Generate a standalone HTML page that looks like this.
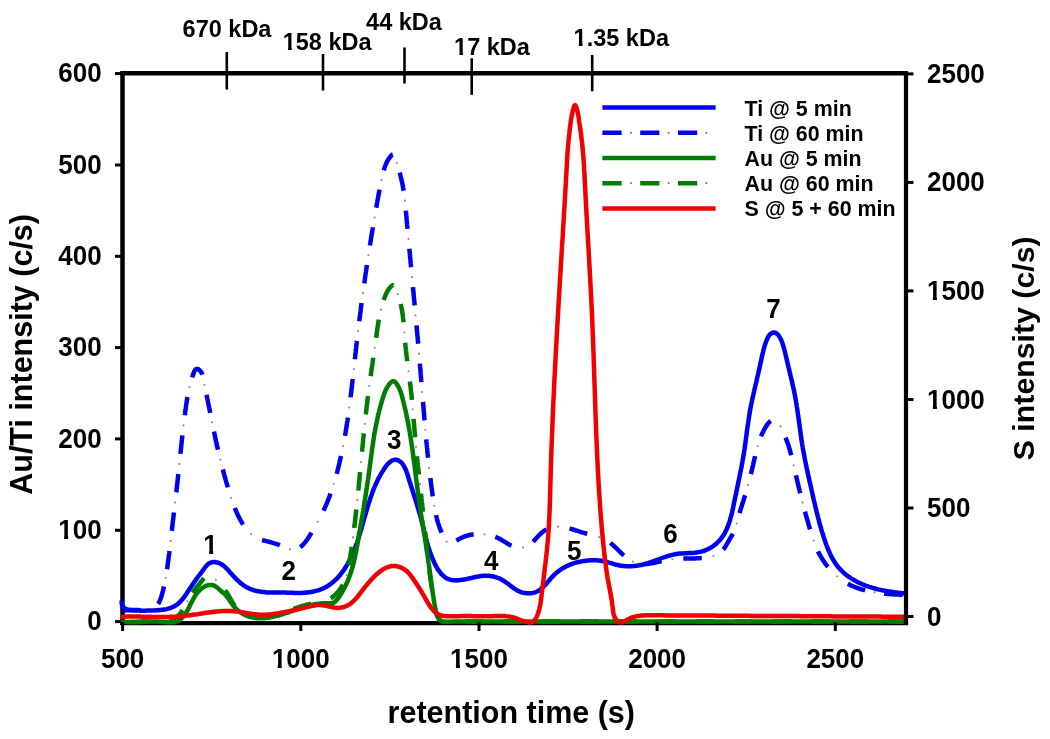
<!DOCTYPE html>
<html><head><meta charset="utf-8"><style>
html,body{margin:0;padding:0;background:#fff;}
body{width:1050px;height:739px;overflow:hidden;}
svg{display:block;filter:blur(0.35px);}
text{font-family:"Liberation Sans", sans-serif;font-weight:bold;fill:#000;}
</style></head><body>
<svg width="1050" height="739" viewBox="0 0 1050 739">
<rect width="1050" height="739" fill="#fff"/>
<g stroke="#000" fill="none">
<path d="M120.3,623.2 H908.1" stroke-width="4.2"/>
<path d="M122.5,71.5 V624.9" stroke-width="4.5"/>
</g>
<path d="M122.0,610.5 L123.6,610.4 L125.1,610.4 L126.6,610.3 L128.1,610.3 L129.5,610.2 L130.9,610.1 L132.3,610.1 L133.8,610.1 L135.2,610.1 L136.7,610.1 L138.2,610.1 L139.8,610.2 L141.4,610.3 L143.0,610.4 L144.6,610.5 L146.2,610.5 L147.8,610.4 L149.3,610.3 L150.7,610.0 L152.1,609.6 L153.4,609.1 L154.6,608.3 L155.6,607.4 L156.6,606.4 L157.5,605.2 L158.3,603.9 L159.0,602.6 L159.6,601.2 L160.2,599.7 L160.8,598.3 L161.3,596.9 L161.7,595.4 L162.1,594.0 L162.5,592.5 L162.9,591.1 L163.2,589.6 L163.5,588.2 L163.9,586.7 L164.2,585.2 L164.5,583.8 L164.8,582.3 L165.0,580.8 L165.3,579.4 L165.6,577.9 L165.9,576.4 L166.1,575.0 L166.3,573.5 L166.6,572.0 L166.8,570.5 L167.1,569.0 L167.3,567.6 L167.5,566.1 L167.7,564.6 L167.9,563.1 L168.1,561.6 L168.3,560.1 L168.5,558.6 L168.7,557.1 L168.9,555.7 L169.1,554.2 L169.3,552.7 L169.4,551.2 L169.6,549.7 L169.8,548.2 L170.0,546.7 L170.1,545.2 L170.3,543.7 L170.5,542.2 L170.7,540.7 L170.8,539.2 L171.0,537.8 L171.2,536.3 L171.3,534.8 L171.5,533.3 L171.7,531.8 L171.9,530.3 L172.0,528.8 L172.2,527.3 L172.4,525.8 L172.6,524.3 L172.7,522.8 L172.9,521.3 L173.1,519.9 L173.3,518.4 L173.4,516.9 L173.6,515.4 L173.8,513.9 L174.0,512.4 L174.1,510.9 L174.3,509.4 L174.5,507.9 L174.7,506.4 L174.8,504.9 L175.0,503.5 L175.2,502.0 L175.3,500.5 L175.5,499.0 L175.7,497.5 L175.9,496.0 L176.0,494.5 L176.2,493.0 L176.4,491.5 L176.5,490.0 L176.7,488.6 L176.9,487.1 L177.0,485.6 L177.2,484.1 L177.4,482.6 L177.5,481.1 L177.7,479.6 L177.9,478.1 L178.0,476.6 L178.2,475.1 L178.3,473.7 L178.5,472.2 L178.7,470.7 L178.8,469.2 L179.0,467.7 L179.1,466.2 L179.3,464.7 L179.5,463.2 L179.6,461.7 L179.8,460.2 L179.9,458.7 L180.1,457.2 L180.2,455.8 L180.4,454.3 L180.5,452.8 L180.7,451.3 L180.8,449.8 L181.0,448.3 L181.2,446.8 L181.3,445.3 L181.5,443.8 L181.6,442.3 L181.8,440.8 L182.0,439.3 L182.1,437.8 L182.3,436.3 L182.4,434.9 L182.6,433.4 L182.8,431.9 L182.9,430.4 L183.1,428.9 L183.3,427.4 L183.5,425.9 L183.6,424.4 L183.8,422.9 L184.0,421.4 L184.2,419.9 L184.4,418.4 L184.6,416.9 L184.8,415.5 L185.0,414.0 L185.1,412.5 L185.3,411.0 L185.6,409.5 L185.8,408.0 L186.0,406.5 L186.2,405.0 L186.4,403.5 L186.6,402.0 L186.9,400.5 L187.1,399.1 L187.3,397.6 L187.6,396.1 L187.9,394.6 L188.1,393.2 L188.4,391.7 L188.7,390.3 L189.0,388.8 L189.4,387.4 L189.7,386.0 L190.1,384.5 L190.5,383.1 L190.9,381.6 L191.3,380.2 L191.8,378.7 L192.2,377.2 L192.7,375.7 L193.3,374.2 L193.8,372.6 L194.5,371.1 L195.2,369.8 L196.1,369.0 L197.2,368.8 L198.5,369.3 L199.7,370.3 L200.9,371.6 L201.7,373.1 L202.4,374.5 L202.8,376.0 L203.1,377.5 L203.4,379.0 L203.6,380.5 L203.9,382.0 L204.2,383.5 L204.5,385.0 L204.8,386.4 L205.1,387.9 L205.4,389.4 L205.7,390.8 L206.0,392.3 L206.3,393.8 L206.6,395.2 L206.9,396.7 L207.2,398.2 L207.5,399.6 L207.8,401.1 L208.1,402.6 L208.4,404.0 L208.7,405.5 L209.0,407.0 L209.3,408.4 L209.6,409.9 L209.9,411.4 L210.2,412.8 L210.5,414.3 L210.8,415.8 L211.1,417.3 L211.4,418.7 L211.7,420.2 L212.0,421.7 L212.2,423.1 L212.5,424.6 L212.8,426.1 L213.1,427.6 L213.4,429.0 L213.8,430.5 L214.1,432.0 L214.4,433.4 L214.7,434.9 L215.0,436.4 L215.3,437.8 L215.6,439.3 L215.9,440.8 L216.3,442.2 L216.6,443.7 L216.9,445.2 L217.2,446.6 L217.6,448.1 L217.9,449.6 L218.3,451.0 L218.6,452.5 L218.9,453.9 L219.3,455.4 L219.6,456.8 L220.0,458.3 L220.4,459.7 L220.7,461.2 L221.1,462.7 L221.5,464.1 L221.8,465.6 L222.2,467.0 L222.6,468.5 L223.0,469.9 L223.3,471.4 L223.7,472.8 L224.1,474.3 L224.5,475.7 L224.9,477.1 L225.3,478.6 L225.7,480.0 L226.1,481.5 L226.5,482.9 L227.0,484.4 L227.4,485.8 L227.8,487.2 L228.2,488.7 L228.7,490.1 L229.1,491.5 L229.6,493.0 L230.0,494.4 L230.5,495.8 L231.0,497.3 L231.4,498.7 L231.9,500.1 L232.4,501.5 L232.9,502.9 L233.4,504.3 L234.0,505.7 L234.5,507.1 L235.0,508.5 L235.6,509.9 L236.2,511.3 L236.8,512.7 L237.4,514.0 L238.0,515.4 L238.7,516.7 L239.4,518.1 L240.1,519.4 L240.8,520.7 L241.5,522.0 L242.3,523.3 L243.1,524.5 L244.0,525.8 L244.8,527.0 L245.7,528.3 L246.7,529.5 L247.6,530.6 L248.6,531.7 L249.7,532.8 L250.7,533.8 L251.9,534.8 L253.0,535.7 L254.2,536.6 L255.5,537.3 L256.8,538.0 L258.1,538.7 L259.5,539.2 L260.9,539.7 L262.4,540.1 L263.9,540.5 L265.4,540.9 L266.8,541.2 L268.3,541.6 L269.8,542.0 L271.3,542.4 L272.7,542.8 L274.1,543.3 L275.5,543.7 L276.9,544.2 L278.3,544.7 L279.7,545.3 L281.0,545.9 L282.4,546.4 L283.8,547.0 L285.2,547.6 L286.6,548.2 L288.0,548.8 L289.5,549.2 L291.0,549.6 L292.5,549.8 L293.9,549.8 L295.4,549.5 L296.8,549.1 L298.2,548.4 L299.5,547.7 L300.7,546.8 L301.9,545.9 L302.9,544.9 L304.0,543.8 L304.9,542.7 L305.8,541.5 L306.7,540.3 L307.6,539.1 L308.4,537.8 L309.2,536.6 L309.9,535.3 L310.7,534.0 L311.5,532.6 L312.2,531.3 L313.0,530.0 L313.7,528.7 L314.5,527.4 L315.3,526.1 L316.0,524.8 L316.8,523.5 L317.6,522.2 L318.3,520.9 L319.0,519.6 L319.7,518.3 L320.4,516.9 L321.1,515.6 L321.8,514.3 L322.5,512.9 L323.1,511.6 L323.7,510.2 L324.4,508.8 L325.0,507.5 L325.6,506.1 L326.2,504.7 L326.8,503.3 L327.3,502.0 L327.9,500.6 L328.4,499.2 L329.0,497.8 L329.5,496.4 L330.0,495.0 L330.5,493.6 L331.0,492.1 L331.5,490.7 L332.0,489.3 L332.5,487.9 L333.0,486.4 L333.4,485.0 L333.9,483.6 L334.3,482.1 L334.7,480.7 L335.2,479.3 L335.6,477.8 L336.0,476.4 L336.4,474.9 L336.8,473.5 L337.2,472.0 L337.5,470.6 L337.9,469.1 L338.3,467.7 L338.7,466.2 L339.0,464.8 L339.4,463.3 L339.7,461.8 L340.0,460.4 L340.4,458.9 L340.7,457.4 L341.0,456.0 L341.4,454.5 L341.7,453.1 L342.0,451.6 L342.3,450.1 L342.6,448.7 L342.9,447.2 L343.2,445.7 L343.5,444.2 L343.7,442.8 L344.0,441.3 L344.3,439.8 L344.5,438.3 L344.8,436.9 L345.1,435.4 L345.3,433.9 L345.6,432.4 L345.8,431.0 L346.1,429.5 L346.3,428.0 L346.5,426.5 L346.8,425.0 L347.0,423.6 L347.2,422.1 L347.5,420.6 L347.7,419.1 L347.9,417.6 L348.1,416.1 L348.3,414.7 L348.5,413.2 L348.7,411.7 L348.9,410.2 L349.1,408.7 L349.3,407.2 L349.5,405.7 L349.7,404.2 L349.9,402.8 L350.1,401.3 L350.3,399.8 L350.5,398.3 L350.6,396.8 L350.8,395.3 L351.0,393.8 L351.2,392.3 L351.4,390.8 L351.5,389.3 L351.7,387.8 L351.9,386.3 L352.0,384.9 L352.2,383.4 L352.4,381.9 L352.5,380.4 L352.7,378.9 L352.9,377.4 L353.0,375.9 L353.2,374.4 L353.4,372.9 L353.5,371.4 L353.7,369.9 L353.9,368.4 L354.0,366.9 L354.2,365.4 L354.3,363.9 L354.5,362.4 L354.7,361.0 L354.8,359.5 L355.0,358.0 L355.2,356.5 L355.3,355.0 L355.5,353.5 L355.7,352.0 L355.8,350.5 L356.0,349.0 L356.2,347.5 L356.3,346.0 L356.5,344.5 L356.7,343.0 L356.8,341.5 L357.0,340.0 L357.2,338.6 L357.4,337.1 L357.5,335.6 L357.7,334.1 L357.9,332.6 L358.1,331.1 L358.2,329.6 L358.4,328.1 L358.6,326.6 L358.8,325.1 L359.0,323.6 L359.1,322.2 L359.3,320.7 L359.5,319.2 L359.7,317.7 L359.9,316.2 L360.1,314.7 L360.3,313.2 L360.5,311.7 L360.7,310.2 L360.8,308.7 L361.0,307.3 L361.2,305.8 L361.4,304.3 L361.6,302.8 L361.8,301.3 L362.0,299.8 L362.2,298.3 L362.4,296.8 L362.6,295.4 L362.8,293.9 L363.0,292.4 L363.2,290.9 L363.4,289.4 L363.6,287.9 L363.8,286.4 L364.0,285.0 L364.3,283.5 L364.5,282.0 L364.7,280.5 L364.9,279.0 L365.1,277.5 L365.3,276.0 L365.5,274.6 L365.7,273.1 L366.0,271.6 L366.2,270.1 L366.4,268.6 L366.6,267.1 L366.8,265.6 L367.0,264.2 L367.3,262.7 L367.5,261.2 L367.7,259.7 L367.9,258.2 L368.2,256.7 L368.4,255.3 L368.6,253.8 L368.9,252.3 L369.1,250.8 L369.3,249.3 L369.5,247.8 L369.8,246.4 L370.0,244.9 L370.3,243.4 L370.5,241.9 L370.7,240.4 L371.0,238.9 L371.2,237.5 L371.4,236.0 L371.7,234.5 L371.9,233.0 L372.2,231.5 L372.4,230.1 L372.7,228.6 L372.9,227.1 L373.2,225.6 L373.4,224.1 L373.7,222.7 L373.9,221.2 L374.2,219.7 L374.4,218.2 L374.7,216.7 L374.9,215.3 L375.2,213.8 L375.4,212.3 L375.7,210.8 L375.9,209.3 L376.2,207.8 L376.5,206.4 L376.7,204.9 L377.0,203.4 L377.3,201.9 L377.5,200.5 L377.8,199.0 L378.1,197.5 L378.4,196.0 L378.6,194.5 L378.9,193.1 L379.2,191.6 L379.5,190.1 L379.8,188.6 L380.0,187.2 L380.3,185.7 L380.6,184.2 L380.9,182.8 L381.2,181.3 L381.5,179.8 L381.8,178.3 L382.2,176.9 L382.5,175.4 L382.8,174.0 L383.2,172.5 L383.6,171.1 L384.0,169.7 L384.4,168.2 L384.9,166.8 L385.4,165.5 L385.9,164.1 L386.5,162.7 L387.2,161.3 L388.1,159.8 L389.1,158.3 L390.2,156.8 L391.3,155.5 L392.4,154.7 L393.3,154.5 L394.1,155.1 L394.7,156.2 L395.2,157.8 L395.7,159.5 L396.2,161.1 L396.7,162.7 L397.2,164.2 L397.6,165.6 L398.1,167.0 L398.5,168.5 L398.9,169.8 L399.3,171.3 L399.7,172.7 L400.1,174.1 L400.5,175.6 L400.8,177.0 L401.2,178.5 L401.5,180.0 L401.9,181.5 L402.2,182.9 L402.5,184.4 L402.8,185.9 L403.0,187.4 L403.3,188.9 L403.5,190.3 L403.8,191.8 L404.0,193.3 L404.2,194.8 L404.4,196.3 L404.6,197.8 L404.7,199.3 L404.9,200.8 L405.1,202.3 L405.2,203.8 L405.4,205.2 L405.5,206.7 L405.7,208.2 L405.8,209.7 L405.9,211.2 L406.1,212.7 L406.2,214.2 L406.3,215.7 L406.5,217.2 L406.6,218.7 L406.7,220.2 L406.9,221.7 L407.0,223.2 L407.1,224.7 L407.3,226.2 L407.4,227.7 L407.5,229.2 L407.7,230.7 L407.8,232.2 L408.0,233.6 L408.1,235.1 L408.2,236.6 L408.4,238.1 L408.5,239.6 L408.6,241.1 L408.8,242.6 L408.9,244.1 L409.1,245.6 L409.2,247.1 L409.3,248.6 L409.5,250.1 L409.6,251.6 L409.8,253.1 L409.9,254.6 L410.0,256.1 L410.2,257.6 L410.3,259.1 L410.5,260.5 L410.6,262.0 L410.7,263.5 L410.9,265.0 L411.0,266.5 L411.2,268.0 L411.3,269.5 L411.4,271.0 L411.6,272.5 L411.7,274.0 L411.9,275.5 L412.0,277.0 L412.2,278.5 L412.3,280.0 L412.4,281.5 L412.6,283.0 L412.7,284.5 L412.9,286.0 L413.0,287.5 L413.1,288.9 L413.3,290.4 L413.4,291.9 L413.6,293.4 L413.7,294.9 L413.8,296.4 L414.0,297.9 L414.1,299.4 L414.3,300.9 L414.4,302.4 L414.5,303.9 L414.7,305.4 L414.8,306.9 L415.0,308.4 L415.1,309.9 L415.2,311.4 L415.4,312.9 L415.5,314.4 L415.6,315.9 L415.8,317.4 L415.9,318.8 L416.1,320.3 L416.2,321.8 L416.3,323.3 L416.5,324.8 L416.6,326.3 L416.7,327.8 L416.9,329.3 L417.0,330.8 L417.1,332.3 L417.3,333.8 L417.4,335.3 L417.5,336.8 L417.7,338.3 L417.8,339.8 L417.9,341.3 L418.1,342.8 L418.2,344.3 L418.3,345.8 L418.5,347.3 L418.6,348.8 L418.7,350.3 L418.9,351.8 L419.0,353.3 L419.1,354.7 L419.2,356.2 L419.4,357.7 L419.5,359.2 L419.6,360.7 L419.8,362.2 L419.9,363.7 L420.0,365.2 L420.1,366.7 L420.3,368.2 L420.4,369.7 L420.5,371.2 L420.6,372.7 L420.7,374.2 L420.9,375.7 L421.0,377.2 L421.1,378.7 L421.2,380.2 L421.4,381.7 L421.5,383.2 L421.6,384.7 L421.7,386.2 L421.8,387.7 L422.0,389.2 L422.1,390.7 L422.2,392.2 L422.3,393.7 L422.4,395.2 L422.6,396.7 L422.7,398.1 L422.8,399.6 L422.9,401.1 L423.1,402.6 L423.2,404.1 L423.3,405.6 L423.4,407.1 L423.6,408.6 L423.7,410.1 L423.8,411.6 L423.9,413.1 L424.1,414.6 L424.2,416.1 L424.3,417.6 L424.4,419.1 L424.6,420.6 L424.7,422.1 L424.8,423.6 L424.9,425.1 L425.1,426.6 L425.2,428.1 L425.3,429.6 L425.5,431.1 L425.6,432.6 L425.7,434.1 L425.9,435.5 L426.0,437.0 L426.2,438.5 L426.3,440.0 L426.4,441.5 L426.6,443.0 L426.7,444.5 L426.9,446.0 L427.0,447.5 L427.2,449.0 L427.3,450.5 L427.5,452.0 L427.6,453.5 L427.8,455.0 L427.9,456.5 L428.1,458.0 L428.2,459.4 L428.4,460.9 L428.6,462.4 L428.7,463.9 L428.9,465.4 L429.1,466.9 L429.2,468.4 L429.4,469.9 L429.6,471.4 L429.7,472.9 L429.9,474.4 L430.1,475.9 L430.3,477.3 L430.4,478.8 L430.6,480.3 L430.8,481.8 L431.0,483.3 L431.2,484.8 L431.4,486.3 L431.6,487.8 L431.8,489.3 L432.0,490.7 L432.2,492.2 L432.4,493.7 L432.6,495.2 L432.8,496.7 L433.0,498.2 L433.2,499.7 L433.5,501.2 L433.7,502.6 L433.9,504.1 L434.2,505.6 L434.4,507.1 L434.7,508.6 L435.0,510.1 L435.3,511.5 L435.6,513.0 L435.9,514.5 L436.2,515.9 L436.6,517.4 L436.9,518.8 L437.3,520.3 L437.7,521.7 L438.1,523.1 L438.6,524.6 L439.1,526.0 L439.5,527.4 L440.1,528.8 L440.6,530.2 L441.2,531.6 L441.8,533.0 L442.4,534.4 L443.1,535.8 L443.8,537.2 L444.5,538.6 L445.3,539.9 L446.2,541.1 L447.2,542.0 L448.5,542.4 L449.9,542.5 L451.4,542.2 L452.9,541.8 L454.3,541.3 L455.7,540.8 L457.1,540.1 L458.4,539.5 L459.7,538.8 L461.1,538.1 L462.4,537.4 L463.7,536.8 L465.1,536.3 L466.6,535.8 L468.0,535.3 L469.5,535.0 L471.0,534.7 L472.5,534.5 L474.0,534.3 L475.5,534.1 L477.0,534.1 L478.5,534.0 L480.0,534.0 L481.5,534.1 L483.0,534.2 L484.5,534.3 L485.9,534.5 L487.4,534.8 L488.8,535.0 L490.3,535.4 L491.7,535.8 L493.1,536.2 L494.5,536.7 L495.9,537.2 L497.3,537.8 L498.6,538.4 L500.0,539.1 L501.3,539.8 L502.6,540.6 L504.0,541.4 L505.3,542.2 L506.6,543.0 L507.9,543.8 L509.2,544.6 L510.5,545.3 L511.8,545.9 L513.2,546.5 L514.6,547.0 L516.0,547.4 L517.4,547.6 L518.9,547.8 L520.4,547.8 L521.9,547.6 L523.4,547.3 L524.9,546.9 L526.4,546.3 L527.8,545.7 L529.1,544.9 L530.4,544.1 L531.5,543.2 L532.7,542.2 L533.7,541.1 L534.7,540.1 L535.7,538.9 L536.7,537.8 L537.7,536.7 L538.7,535.6 L539.7,534.5 L540.8,533.5 L541.9,532.5 L543.1,531.6 L544.4,530.7 L545.7,529.9 L547.0,529.2 L548.4,528.6 L549.8,528.1 L551.3,527.6 L552.7,527.3 L554.1,527.0 L555.6,526.8 L557.0,526.7 L558.5,526.7 L559.9,526.8 L561.4,526.9 L562.8,527.1 L564.3,527.3 L565.7,527.6 L567.2,527.9 L568.6,528.3 L570.1,528.7 L571.6,529.1 L573.0,529.5 L574.5,530.0 L576.0,530.5 L577.4,530.9 L578.9,531.4 L580.4,531.8 L581.8,532.3 L583.3,532.7 L584.8,533.1 L586.2,533.5 L587.7,533.9 L589.2,534.2 L590.6,534.6 L592.1,535.0 L593.5,535.4 L594.9,535.8 L596.3,536.2 L597.7,536.6 L599.1,537.1 L600.5,537.6 L601.9,538.1 L603.2,538.7 L604.5,539.3 L605.8,540.0 L607.1,540.7 L608.3,541.5 L609.5,542.4 L610.7,543.3 L611.9,544.2 L613.1,545.2 L614.2,546.3 L615.4,547.3 L616.5,548.4 L617.6,549.5 L618.7,550.6 L619.9,551.7 L621.0,552.8 L622.1,553.9 L623.2,554.9 L624.4,555.9 L625.5,556.9 L626.7,557.9 L627.9,558.8 L629.1,559.7 L630.3,560.5 L631.5,561.2 L632.8,561.8 L634.1,562.4 L635.4,562.9 L636.8,563.3 L638.2,563.6 L639.6,563.8 L641.1,563.9 L642.5,564.0 L644.0,564.0 L645.5,564.0 L647.0,563.9 L648.5,563.7 L650.1,563.5 L651.6,563.3 L653.1,563.0 L654.6,562.7 L656.1,562.4 L657.5,562.1 L659.0,561.7 L660.5,561.4 L662.0,561.0 L663.5,560.7 L664.9,560.4 L666.4,560.1 L667.9,559.9 L669.3,559.6 L670.8,559.4 L672.3,559.3 L673.8,559.1 L675.2,559.0 L676.7,558.9 L678.2,558.8 L679.7,558.7 L681.1,558.7 L682.6,558.6 L684.1,558.6 L685.6,558.5 L687.1,558.5 L688.6,558.5 L690.1,558.5 L691.6,558.4 L693.2,558.4 L694.7,558.4 L696.2,558.3 L697.8,558.3 L699.3,558.2 L700.8,558.1 L702.4,558.0 L703.9,557.9 L705.4,557.7 L706.9,557.5 L708.4,557.3 L709.8,557.0 L711.3,556.6 L712.7,556.2 L714.1,555.8 L715.4,555.2 L716.7,554.6 L717.9,553.9 L719.2,553.2 L720.3,552.3 L721.4,551.4 L722.5,550.3 L723.5,549.2 L724.4,548.0 L725.3,546.7 L726.1,545.4 L726.9,544.0 L727.7,542.6 L728.5,541.3 L729.3,539.9 L730.0,538.6 L730.7,537.3 L731.5,536.0 L732.2,534.8 L732.9,533.5 L733.5,532.2 L734.1,530.9 L734.6,529.5 L735.1,528.2 L735.6,526.7 L736.0,525.3 L736.5,523.8 L736.9,522.4 L737.3,520.9 L737.7,519.4 L738.1,518.0 L738.5,516.5 L738.9,515.1 L739.4,513.6 L739.8,512.2 L740.2,510.7 L740.7,509.3 L741.1,507.8 L741.6,506.4 L742.0,505.0 L742.5,503.6 L742.9,502.1 L743.4,500.7 L743.8,499.3 L744.3,497.8 L744.7,496.4 L745.2,495.0 L745.6,493.6 L746.0,492.1 L746.5,490.7 L746.9,489.3 L747.3,487.8 L747.7,486.4 L748.1,484.9 L748.5,483.5 L748.9,482.0 L749.3,480.6 L749.6,479.1 L750.0,477.7 L750.4,476.2 L750.7,474.8 L751.1,473.3 L751.4,471.8 L751.8,470.4 L752.1,468.9 L752.5,467.4 L752.8,466.0 L753.2,464.5 L753.5,463.0 L753.8,461.6 L754.2,460.1 L754.5,458.6 L754.9,457.2 L755.2,455.7 L755.6,454.3 L755.9,452.8 L756.3,451.4 L756.7,449.9 L757.1,448.5 L757.4,447.0 L757.9,445.6 L758.3,444.2 L758.7,442.7 L759.2,441.3 L759.7,439.9 L760.2,438.5 L760.7,437.1 L761.3,435.7 L761.9,434.3 L762.5,432.9 L763.2,431.6 L763.9,430.2 L764.6,428.8 L765.4,427.5 L766.2,426.2 L767.1,424.8 L768.0,423.6 L769.0,422.4 L770.0,421.4 L771.1,420.6 L772.4,420.2 L773.7,420.2 L775.1,420.7 L776.5,421.5 L777.8,422.6 L778.9,423.7 L779.8,425.0 L780.5,426.3 L781.2,427.6 L781.8,428.9 L782.3,430.3 L782.9,431.7 L783.5,433.0 L784.1,434.4 L784.7,435.8 L785.3,437.2 L785.9,438.6 L786.4,440.0 L787.0,441.4 L787.5,442.8 L788.0,444.2 L788.5,445.6 L788.9,447.1 L789.4,448.5 L789.8,449.9 L790.2,451.4 L790.6,452.8 L791.0,454.3 L791.3,455.7 L791.7,457.2 L792.1,458.6 L792.4,460.1 L792.8,461.6 L793.1,463.0 L793.5,464.5 L793.8,465.9 L794.1,467.4 L794.5,468.9 L794.8,470.3 L795.1,471.8 L795.5,473.3 L795.8,474.7 L796.1,476.2 L796.5,477.6 L796.8,479.1 L797.2,480.6 L797.5,482.0 L797.9,483.5 L798.2,484.9 L798.6,486.4 L798.9,487.9 L799.3,489.3 L799.6,490.8 L800.0,492.2 L800.3,493.7 L800.7,495.1 L801.1,496.6 L801.4,498.0 L801.8,499.5 L802.2,501.0 L802.6,502.4 L802.9,503.9 L803.3,505.3 L803.7,506.8 L804.1,508.2 L804.5,509.6 L804.9,511.1 L805.3,512.5 L805.6,514.0 L806.0,515.4 L806.4,516.9 L806.8,518.3 L807.3,519.8 L807.7,521.2 L808.1,522.6 L808.5,524.1 L808.9,525.5 L809.3,527.0 L809.8,528.4 L810.2,529.8 L810.6,531.3 L811.0,532.7 L811.5,534.1 L811.9,535.6 L812.4,537.0 L812.8,538.4 L813.3,539.8 L813.8,541.2 L814.3,542.7 L814.8,544.1 L815.4,545.4 L815.9,546.8 L816.5,548.2 L817.1,549.6 L817.8,550.9 L818.4,552.3 L819.1,553.6 L819.8,554.9 L820.6,556.2 L821.3,557.5 L822.1,558.8 L822.9,560.1 L823.8,561.3 L824.6,562.6 L825.5,563.8 L826.4,565.0 L827.3,566.2 L828.3,567.4 L829.3,568.5 L830.3,569.6 L831.3,570.8 L832.3,571.8 L833.4,572.9 L834.4,573.9 L835.5,575.0 L836.6,575.9 L837.8,576.9 L838.9,577.9 L840.1,578.8 L841.3,579.6 L842.5,580.5 L843.8,581.3 L845.0,582.1 L846.3,582.9 L847.6,583.6 L848.9,584.3 L850.2,585.0 L851.5,585.6 L852.9,586.2 L854.2,586.8 L855.6,587.4 L857.0,587.9 L858.4,588.4 L859.9,588.9 L861.3,589.3 L862.7,589.7 L864.2,590.1 L865.6,590.5 L867.1,590.8 L868.6,591.2 L870.1,591.5 L871.6,591.8 L873.1,592.0 L874.6,592.3 L876.1,592.5 L877.6,592.8 L879.1,593.0 L880.6,593.2 L882.1,593.3 L883.6,593.5 L885.2,593.7 L886.7,593.8 L888.2,593.9 L889.7,594.1 L891.2,594.2 L892.7,594.3 L894.2,594.4 L895.7,594.5 L897.2,594.6 L898.7,594.6 L900.2,594.7 L901.6,594.8 L903.1,594.9 L904.5,594.9 L906.0,595.0" fill="none" stroke="#0000f0" stroke-width="4.5" stroke-dasharray="0.00 0.24 18.50 20.00 18.50 17.44 18.50 20.27 18.50 20.27 18.50 20.27 18.50 20.27 18.50 20.27 18.50 20.68 18.50 19.01 18.50 20.47 18.50 21.96 18.50 25.06 18.50 21.85 18.50 25.12 18.50 20.53 18.50 20.48 18.50 20.53 18.50 19.78 18.50 19.78 18.50 19.78 18.50 19.78 18.50 19.78 18.50 19.78 18.50 19.95 18.50 19.95 18.50 19.95 18.50 19.95 18.50 19.95 18.50 19.95 18.50 19.95 18.50 19.03 18.50 20.52 18.50 19.01 18.50 20.43 18.50 22.02 18.50 23.62 18.50 23.39 18.50 25.04 18.50 21.89 18.50 21.89 18.50 23.69 18.50 21.89 18.50 22.01 18.50 20.64 18.50 25.02 18.50 20.49 18.50 18.98 18.50 23.46 18.50 26.28 18.50 19.38 18.50 52.53"/>
<path d="M122.0,610.5 L123.6,610.4 L125.1,610.4 L126.6,610.3 L128.1,610.3 L129.5,610.2 L130.9,610.1 L132.3,610.1 L133.8,610.1 L135.2,610.1 L136.7,610.1 L138.2,610.1 L139.8,610.2 L141.4,610.3 L143.0,610.4 L144.6,610.5 L146.2,610.5 L147.8,610.4 L149.3,610.3 L150.7,610.0 L152.1,609.6 L153.4,609.1 L154.6,608.3 L155.6,607.4 L156.6,606.4 L157.5,605.2 L158.3,603.9 L159.0,602.6 L159.6,601.2 L160.2,599.7 L160.8,598.3 L161.3,596.9 L161.7,595.4 L162.1,594.0 L162.5,592.5 L162.9,591.1 L163.2,589.6 L163.5,588.2 L163.9,586.7 L164.2,585.2 L164.5,583.8 L164.8,582.3 L165.0,580.8 L165.3,579.4 L165.6,577.9 L165.9,576.4 L166.1,575.0 L166.3,573.5 L166.6,572.0 L166.8,570.5 L167.1,569.0 L167.3,567.6 L167.5,566.1 L167.7,564.6 L167.9,563.1 L168.1,561.6 L168.3,560.1 L168.5,558.6 L168.7,557.1 L168.9,555.7 L169.1,554.2 L169.3,552.7 L169.4,551.2 L169.6,549.7 L169.8,548.2 L170.0,546.7 L170.1,545.2 L170.3,543.7 L170.5,542.2 L170.7,540.7 L170.8,539.2 L171.0,537.8 L171.2,536.3 L171.3,534.8 L171.5,533.3 L171.7,531.8 L171.9,530.3 L172.0,528.8 L172.2,527.3 L172.4,525.8 L172.6,524.3 L172.7,522.8 L172.9,521.3 L173.1,519.9 L173.3,518.4 L173.4,516.9 L173.6,515.4 L173.8,513.9 L174.0,512.4 L174.1,510.9 L174.3,509.4 L174.5,507.9 L174.7,506.4 L174.8,504.9 L175.0,503.5 L175.2,502.0 L175.3,500.5 L175.5,499.0 L175.7,497.5 L175.9,496.0 L176.0,494.5 L176.2,493.0 L176.4,491.5 L176.5,490.0 L176.7,488.6 L176.9,487.1 L177.0,485.6 L177.2,484.1 L177.4,482.6 L177.5,481.1 L177.7,479.6 L177.9,478.1 L178.0,476.6 L178.2,475.1 L178.3,473.7 L178.5,472.2 L178.7,470.7 L178.8,469.2 L179.0,467.7 L179.1,466.2 L179.3,464.7 L179.5,463.2 L179.6,461.7 L179.8,460.2 L179.9,458.7 L180.1,457.2 L180.2,455.8 L180.4,454.3 L180.5,452.8 L180.7,451.3 L180.8,449.8 L181.0,448.3 L181.2,446.8 L181.3,445.3 L181.5,443.8 L181.6,442.3 L181.8,440.8 L182.0,439.3 L182.1,437.8 L182.3,436.3 L182.4,434.9 L182.6,433.4 L182.8,431.9 L182.9,430.4 L183.1,428.9 L183.3,427.4 L183.5,425.9 L183.6,424.4 L183.8,422.9 L184.0,421.4 L184.2,419.9 L184.4,418.4 L184.6,416.9 L184.8,415.5 L185.0,414.0 L185.1,412.5 L185.3,411.0 L185.6,409.5 L185.8,408.0 L186.0,406.5 L186.2,405.0 L186.4,403.5 L186.6,402.0 L186.9,400.5 L187.1,399.1 L187.3,397.6 L187.6,396.1 L187.9,394.6 L188.1,393.2 L188.4,391.7 L188.7,390.3 L189.0,388.8 L189.4,387.4 L189.7,386.0 L190.1,384.5 L190.5,383.1 L190.9,381.6 L191.3,380.2 L191.8,378.7 L192.2,377.2 L192.7,375.7 L193.3,374.2 L193.8,372.6 L194.5,371.1 L195.2,369.8 L196.1,369.0 L197.2,368.8 L198.5,369.3 L199.7,370.3 L200.9,371.6 L201.7,373.1 L202.4,374.5 L202.8,376.0 L203.1,377.5 L203.4,379.0 L203.6,380.5 L203.9,382.0 L204.2,383.5 L204.5,385.0 L204.8,386.4 L205.1,387.9 L205.4,389.4 L205.7,390.8 L206.0,392.3 L206.3,393.8 L206.6,395.2 L206.9,396.7 L207.2,398.2 L207.5,399.6 L207.8,401.1 L208.1,402.6 L208.4,404.0 L208.7,405.5 L209.0,407.0 L209.3,408.4 L209.6,409.9 L209.9,411.4 L210.2,412.8 L210.5,414.3 L210.8,415.8 L211.1,417.3 L211.4,418.7 L211.7,420.2 L212.0,421.7 L212.2,423.1 L212.5,424.6 L212.8,426.1 L213.1,427.6 L213.4,429.0 L213.8,430.5 L214.1,432.0 L214.4,433.4 L214.7,434.9 L215.0,436.4 L215.3,437.8 L215.6,439.3 L215.9,440.8 L216.3,442.2 L216.6,443.7 L216.9,445.2 L217.2,446.6 L217.6,448.1 L217.9,449.6 L218.3,451.0 L218.6,452.5 L218.9,453.9 L219.3,455.4 L219.6,456.8 L220.0,458.3 L220.4,459.7 L220.7,461.2 L221.1,462.7 L221.5,464.1 L221.8,465.6 L222.2,467.0 L222.6,468.5 L223.0,469.9 L223.3,471.4 L223.7,472.8 L224.1,474.3 L224.5,475.7 L224.9,477.1 L225.3,478.6 L225.7,480.0 L226.1,481.5 L226.5,482.9 L227.0,484.4 L227.4,485.8 L227.8,487.2 L228.2,488.7 L228.7,490.1 L229.1,491.5 L229.6,493.0 L230.0,494.4 L230.5,495.8 L231.0,497.3 L231.4,498.7 L231.9,500.1 L232.4,501.5 L232.9,502.9 L233.4,504.3 L234.0,505.7 L234.5,507.1 L235.0,508.5 L235.6,509.9 L236.2,511.3 L236.8,512.7 L237.4,514.0 L238.0,515.4 L238.7,516.7 L239.4,518.1 L240.1,519.4 L240.8,520.7 L241.5,522.0 L242.3,523.3 L243.1,524.5 L244.0,525.8 L244.8,527.0 L245.7,528.3 L246.7,529.5 L247.6,530.6 L248.6,531.7 L249.7,532.8 L250.7,533.8 L251.9,534.8 L253.0,535.7 L254.2,536.6 L255.5,537.3 L256.8,538.0 L258.1,538.7 L259.5,539.2 L260.9,539.7 L262.4,540.1 L263.9,540.5 L265.4,540.9 L266.8,541.2 L268.3,541.6 L269.8,542.0 L271.3,542.4 L272.7,542.8 L274.1,543.3 L275.5,543.7 L276.9,544.2 L278.3,544.7 L279.7,545.3 L281.0,545.9 L282.4,546.4 L283.8,547.0 L285.2,547.6 L286.6,548.2 L288.0,548.8 L289.5,549.2 L291.0,549.6 L292.5,549.8 L293.9,549.8 L295.4,549.5 L296.8,549.1 L298.2,548.4 L299.5,547.7 L300.7,546.8 L301.9,545.9 L302.9,544.9 L304.0,543.8 L304.9,542.7 L305.8,541.5 L306.7,540.3 L307.6,539.1 L308.4,537.8 L309.2,536.6 L309.9,535.3 L310.7,534.0 L311.5,532.6 L312.2,531.3 L313.0,530.0 L313.7,528.7 L314.5,527.4 L315.3,526.1 L316.0,524.8 L316.8,523.5 L317.6,522.2 L318.3,520.9 L319.0,519.6 L319.7,518.3 L320.4,516.9 L321.1,515.6 L321.8,514.3 L322.5,512.9 L323.1,511.6 L323.7,510.2 L324.4,508.8 L325.0,507.5 L325.6,506.1 L326.2,504.7 L326.8,503.3 L327.3,502.0 L327.9,500.6 L328.4,499.2 L329.0,497.8 L329.5,496.4 L330.0,495.0 L330.5,493.6 L331.0,492.1 L331.5,490.7 L332.0,489.3 L332.5,487.9 L333.0,486.4 L333.4,485.0 L333.9,483.6 L334.3,482.1 L334.7,480.7 L335.2,479.3 L335.6,477.8 L336.0,476.4 L336.4,474.9 L336.8,473.5 L337.2,472.0 L337.5,470.6 L337.9,469.1 L338.3,467.7 L338.7,466.2 L339.0,464.8 L339.4,463.3 L339.7,461.8 L340.0,460.4 L340.4,458.9 L340.7,457.4 L341.0,456.0 L341.4,454.5 L341.7,453.1 L342.0,451.6 L342.3,450.1 L342.6,448.7 L342.9,447.2 L343.2,445.7 L343.5,444.2 L343.7,442.8 L344.0,441.3 L344.3,439.8 L344.5,438.3 L344.8,436.9 L345.1,435.4 L345.3,433.9 L345.6,432.4 L345.8,431.0 L346.1,429.5 L346.3,428.0 L346.5,426.5 L346.8,425.0 L347.0,423.6 L347.2,422.1 L347.5,420.6 L347.7,419.1 L347.9,417.6 L348.1,416.1 L348.3,414.7 L348.5,413.2 L348.7,411.7 L348.9,410.2 L349.1,408.7 L349.3,407.2 L349.5,405.7 L349.7,404.2 L349.9,402.8 L350.1,401.3 L350.3,399.8 L350.5,398.3 L350.6,396.8 L350.8,395.3 L351.0,393.8 L351.2,392.3 L351.4,390.8 L351.5,389.3 L351.7,387.8 L351.9,386.3 L352.0,384.9 L352.2,383.4 L352.4,381.9 L352.5,380.4 L352.7,378.9 L352.9,377.4 L353.0,375.9 L353.2,374.4 L353.4,372.9 L353.5,371.4 L353.7,369.9 L353.9,368.4 L354.0,366.9 L354.2,365.4 L354.3,363.9 L354.5,362.4 L354.7,361.0 L354.8,359.5 L355.0,358.0 L355.2,356.5 L355.3,355.0 L355.5,353.5 L355.7,352.0 L355.8,350.5 L356.0,349.0 L356.2,347.5 L356.3,346.0 L356.5,344.5 L356.7,343.0 L356.8,341.5 L357.0,340.0 L357.2,338.6 L357.4,337.1 L357.5,335.6 L357.7,334.1 L357.9,332.6 L358.1,331.1 L358.2,329.6 L358.4,328.1 L358.6,326.6 L358.8,325.1 L359.0,323.6 L359.1,322.2 L359.3,320.7 L359.5,319.2 L359.7,317.7 L359.9,316.2 L360.1,314.7 L360.3,313.2 L360.5,311.7 L360.7,310.2 L360.8,308.7 L361.0,307.3 L361.2,305.8 L361.4,304.3 L361.6,302.8 L361.8,301.3 L362.0,299.8 L362.2,298.3 L362.4,296.8 L362.6,295.4 L362.8,293.9 L363.0,292.4 L363.2,290.9 L363.4,289.4 L363.6,287.9 L363.8,286.4 L364.0,285.0 L364.3,283.5 L364.5,282.0 L364.7,280.5 L364.9,279.0 L365.1,277.5 L365.3,276.0 L365.5,274.6 L365.7,273.1 L366.0,271.6 L366.2,270.1 L366.4,268.6 L366.6,267.1 L366.8,265.6 L367.0,264.2 L367.3,262.7 L367.5,261.2 L367.7,259.7 L367.9,258.2 L368.2,256.7 L368.4,255.3 L368.6,253.8 L368.9,252.3 L369.1,250.8 L369.3,249.3 L369.5,247.8 L369.8,246.4 L370.0,244.9 L370.3,243.4 L370.5,241.9 L370.7,240.4 L371.0,238.9 L371.2,237.5 L371.4,236.0 L371.7,234.5 L371.9,233.0 L372.2,231.5 L372.4,230.1 L372.7,228.6 L372.9,227.1 L373.2,225.6 L373.4,224.1 L373.7,222.7 L373.9,221.2 L374.2,219.7 L374.4,218.2 L374.7,216.7 L374.9,215.3 L375.2,213.8 L375.4,212.3 L375.7,210.8 L375.9,209.3 L376.2,207.8 L376.5,206.4 L376.7,204.9 L377.0,203.4 L377.3,201.9 L377.5,200.5 L377.8,199.0 L378.1,197.5 L378.4,196.0 L378.6,194.5 L378.9,193.1 L379.2,191.6 L379.5,190.1 L379.8,188.6 L380.0,187.2 L380.3,185.7 L380.6,184.2 L380.9,182.8 L381.2,181.3 L381.5,179.8 L381.8,178.3 L382.2,176.9 L382.5,175.4 L382.8,174.0 L383.2,172.5 L383.6,171.1 L384.0,169.7 L384.4,168.2 L384.9,166.8 L385.4,165.5 L385.9,164.1 L386.5,162.7 L387.2,161.3 L388.1,159.8 L389.1,158.3 L390.2,156.8 L391.3,155.5 L392.4,154.7 L393.3,154.5 L394.1,155.1 L394.7,156.2 L395.2,157.8 L395.7,159.5 L396.2,161.1 L396.7,162.7 L397.2,164.2 L397.6,165.6 L398.1,167.0 L398.5,168.5 L398.9,169.8 L399.3,171.3 L399.7,172.7 L400.1,174.1 L400.5,175.6 L400.8,177.0 L401.2,178.5 L401.5,180.0 L401.9,181.5 L402.2,182.9 L402.5,184.4 L402.8,185.9 L403.0,187.4 L403.3,188.9 L403.5,190.3 L403.8,191.8 L404.0,193.3 L404.2,194.8 L404.4,196.3 L404.6,197.8 L404.7,199.3 L404.9,200.8 L405.1,202.3 L405.2,203.8 L405.4,205.2 L405.5,206.7 L405.7,208.2 L405.8,209.7 L405.9,211.2 L406.1,212.7 L406.2,214.2 L406.3,215.7 L406.5,217.2 L406.6,218.7 L406.7,220.2 L406.9,221.7 L407.0,223.2 L407.1,224.7 L407.3,226.2 L407.4,227.7 L407.5,229.2 L407.7,230.7 L407.8,232.2 L408.0,233.6 L408.1,235.1 L408.2,236.6 L408.4,238.1 L408.5,239.6 L408.6,241.1 L408.8,242.6 L408.9,244.1 L409.1,245.6 L409.2,247.1 L409.3,248.6 L409.5,250.1 L409.6,251.6 L409.8,253.1 L409.9,254.6 L410.0,256.1 L410.2,257.6 L410.3,259.1 L410.5,260.5 L410.6,262.0 L410.7,263.5 L410.9,265.0 L411.0,266.5 L411.2,268.0 L411.3,269.5 L411.4,271.0 L411.6,272.5 L411.7,274.0 L411.9,275.5 L412.0,277.0 L412.2,278.5 L412.3,280.0 L412.4,281.5 L412.6,283.0 L412.7,284.5 L412.9,286.0 L413.0,287.5 L413.1,288.9 L413.3,290.4 L413.4,291.9 L413.6,293.4 L413.7,294.9 L413.8,296.4 L414.0,297.9 L414.1,299.4 L414.3,300.9 L414.4,302.4 L414.5,303.9 L414.7,305.4 L414.8,306.9 L415.0,308.4 L415.1,309.9 L415.2,311.4 L415.4,312.9 L415.5,314.4 L415.6,315.9 L415.8,317.4 L415.9,318.8 L416.1,320.3 L416.2,321.8 L416.3,323.3 L416.5,324.8 L416.6,326.3 L416.7,327.8 L416.9,329.3 L417.0,330.8 L417.1,332.3 L417.3,333.8 L417.4,335.3 L417.5,336.8 L417.7,338.3 L417.8,339.8 L417.9,341.3 L418.1,342.8 L418.2,344.3 L418.3,345.8 L418.5,347.3 L418.6,348.8 L418.7,350.3 L418.9,351.8 L419.0,353.3 L419.1,354.7 L419.2,356.2 L419.4,357.7 L419.5,359.2 L419.6,360.7 L419.8,362.2 L419.9,363.7 L420.0,365.2 L420.1,366.7 L420.3,368.2 L420.4,369.7 L420.5,371.2 L420.6,372.7 L420.7,374.2 L420.9,375.7 L421.0,377.2 L421.1,378.7 L421.2,380.2 L421.4,381.7 L421.5,383.2 L421.6,384.7 L421.7,386.2 L421.8,387.7 L422.0,389.2 L422.1,390.7 L422.2,392.2 L422.3,393.7 L422.4,395.2 L422.6,396.7 L422.7,398.1 L422.8,399.6 L422.9,401.1 L423.1,402.6 L423.2,404.1 L423.3,405.6 L423.4,407.1 L423.6,408.6 L423.7,410.1 L423.8,411.6 L423.9,413.1 L424.1,414.6 L424.2,416.1 L424.3,417.6 L424.4,419.1 L424.6,420.6 L424.7,422.1 L424.8,423.6 L424.9,425.1 L425.1,426.6 L425.2,428.1 L425.3,429.6 L425.5,431.1 L425.6,432.6 L425.7,434.1 L425.9,435.5 L426.0,437.0 L426.2,438.5 L426.3,440.0 L426.4,441.5 L426.6,443.0 L426.7,444.5 L426.9,446.0 L427.0,447.5 L427.2,449.0 L427.3,450.5 L427.5,452.0 L427.6,453.5 L427.8,455.0 L427.9,456.5 L428.1,458.0 L428.2,459.4 L428.4,460.9 L428.6,462.4 L428.7,463.9 L428.9,465.4 L429.1,466.9 L429.2,468.4 L429.4,469.9 L429.6,471.4 L429.7,472.9 L429.9,474.4 L430.1,475.9 L430.3,477.3 L430.4,478.8 L430.6,480.3 L430.8,481.8 L431.0,483.3 L431.2,484.8 L431.4,486.3 L431.6,487.8 L431.8,489.3 L432.0,490.7 L432.2,492.2 L432.4,493.7 L432.6,495.2 L432.8,496.7 L433.0,498.2 L433.2,499.7 L433.5,501.2 L433.7,502.6 L433.9,504.1 L434.2,505.6 L434.4,507.1 L434.7,508.6 L435.0,510.1 L435.3,511.5 L435.6,513.0 L435.9,514.5 L436.2,515.9 L436.6,517.4 L436.9,518.8 L437.3,520.3 L437.7,521.7 L438.1,523.1 L438.6,524.6 L439.1,526.0 L439.5,527.4 L440.1,528.8 L440.6,530.2 L441.2,531.6 L441.8,533.0 L442.4,534.4 L443.1,535.8 L443.8,537.2 L444.5,538.6 L445.3,539.9 L446.2,541.1 L447.2,542.0 L448.5,542.4 L449.9,542.5 L451.4,542.2 L452.9,541.8 L454.3,541.3 L455.7,540.8 L457.1,540.1 L458.4,539.5 L459.7,538.8 L461.1,538.1 L462.4,537.4 L463.7,536.8 L465.1,536.3 L466.6,535.8 L468.0,535.3 L469.5,535.0 L471.0,534.7 L472.5,534.5 L474.0,534.3 L475.5,534.1 L477.0,534.1 L478.5,534.0 L480.0,534.0 L481.5,534.1 L483.0,534.2 L484.5,534.3 L485.9,534.5 L487.4,534.8 L488.8,535.0 L490.3,535.4 L491.7,535.8 L493.1,536.2 L494.5,536.7 L495.9,537.2 L497.3,537.8 L498.6,538.4 L500.0,539.1 L501.3,539.8 L502.6,540.6 L504.0,541.4 L505.3,542.2 L506.6,543.0 L507.9,543.8 L509.2,544.6 L510.5,545.3 L511.8,545.9 L513.2,546.5 L514.6,547.0 L516.0,547.4 L517.4,547.6 L518.9,547.8 L520.4,547.8 L521.9,547.6 L523.4,547.3 L524.9,546.9 L526.4,546.3 L527.8,545.7 L529.1,544.9 L530.4,544.1 L531.5,543.2 L532.7,542.2 L533.7,541.1 L534.7,540.1 L535.7,538.9 L536.7,537.8 L537.7,536.7 L538.7,535.6 L539.7,534.5 L540.8,533.5 L541.9,532.5 L543.1,531.6 L544.4,530.7 L545.7,529.9 L547.0,529.2 L548.4,528.6 L549.8,528.1 L551.3,527.6 L552.7,527.3 L554.1,527.0 L555.6,526.8 L557.0,526.7 L558.5,526.7 L559.9,526.8 L561.4,526.9 L562.8,527.1 L564.3,527.3 L565.7,527.6 L567.2,527.9 L568.6,528.3 L570.1,528.7 L571.6,529.1 L573.0,529.5 L574.5,530.0 L576.0,530.5 L577.4,530.9 L578.9,531.4 L580.4,531.8 L581.8,532.3 L583.3,532.7 L584.8,533.1 L586.2,533.5 L587.7,533.9 L589.2,534.2 L590.6,534.6 L592.1,535.0 L593.5,535.4 L594.9,535.8 L596.3,536.2 L597.7,536.6 L599.1,537.1 L600.5,537.6 L601.9,538.1 L603.2,538.7 L604.5,539.3 L605.8,540.0 L607.1,540.7 L608.3,541.5 L609.5,542.4 L610.7,543.3 L611.9,544.2 L613.1,545.2 L614.2,546.3 L615.4,547.3 L616.5,548.4 L617.6,549.5 L618.7,550.6 L619.9,551.7 L621.0,552.8 L622.1,553.9 L623.2,554.9 L624.4,555.9 L625.5,556.9 L626.7,557.9 L627.9,558.8 L629.1,559.7 L630.3,560.5 L631.5,561.2 L632.8,561.8 L634.1,562.4 L635.4,562.9 L636.8,563.3 L638.2,563.6 L639.6,563.8 L641.1,563.9 L642.5,564.0 L644.0,564.0 L645.5,564.0 L647.0,563.9 L648.5,563.7 L650.1,563.5 L651.6,563.3 L653.1,563.0 L654.6,562.7 L656.1,562.4 L657.5,562.1 L659.0,561.7 L660.5,561.4 L662.0,561.0 L663.5,560.7 L664.9,560.4 L666.4,560.1 L667.9,559.9 L669.3,559.6 L670.8,559.4 L672.3,559.3 L673.8,559.1 L675.2,559.0 L676.7,558.9 L678.2,558.8 L679.7,558.7 L681.1,558.7 L682.6,558.6 L684.1,558.6 L685.6,558.5 L687.1,558.5 L688.6,558.5 L690.1,558.5 L691.6,558.4 L693.2,558.4 L694.7,558.4 L696.2,558.3 L697.8,558.3 L699.3,558.2 L700.8,558.1 L702.4,558.0 L703.9,557.9 L705.4,557.7 L706.9,557.5 L708.4,557.3 L709.8,557.0 L711.3,556.6 L712.7,556.2 L714.1,555.8 L715.4,555.2 L716.7,554.6 L717.9,553.9 L719.2,553.2 L720.3,552.3 L721.4,551.4 L722.5,550.3 L723.5,549.2 L724.4,548.0 L725.3,546.7 L726.1,545.4 L726.9,544.0 L727.7,542.6 L728.5,541.3 L729.3,539.9 L730.0,538.6 L730.7,537.3 L731.5,536.0 L732.2,534.8 L732.9,533.5 L733.5,532.2 L734.1,530.9 L734.6,529.5 L735.1,528.2 L735.6,526.7 L736.0,525.3 L736.5,523.8 L736.9,522.4 L737.3,520.9 L737.7,519.4 L738.1,518.0 L738.5,516.5 L738.9,515.1 L739.4,513.6 L739.8,512.2 L740.2,510.7 L740.7,509.3 L741.1,507.8 L741.6,506.4 L742.0,505.0 L742.5,503.6 L742.9,502.1 L743.4,500.7 L743.8,499.3 L744.3,497.8 L744.7,496.4 L745.2,495.0 L745.6,493.6 L746.0,492.1 L746.5,490.7 L746.9,489.3 L747.3,487.8 L747.7,486.4 L748.1,484.9 L748.5,483.5 L748.9,482.0 L749.3,480.6 L749.6,479.1 L750.0,477.7 L750.4,476.2 L750.7,474.8 L751.1,473.3 L751.4,471.8 L751.8,470.4 L752.1,468.9 L752.5,467.4 L752.8,466.0 L753.2,464.5 L753.5,463.0 L753.8,461.6 L754.2,460.1 L754.5,458.6 L754.9,457.2 L755.2,455.7 L755.6,454.3 L755.9,452.8 L756.3,451.4 L756.7,449.9 L757.1,448.5 L757.4,447.0 L757.9,445.6 L758.3,444.2 L758.7,442.7 L759.2,441.3 L759.7,439.9 L760.2,438.5 L760.7,437.1 L761.3,435.7 L761.9,434.3 L762.5,432.9 L763.2,431.6 L763.9,430.2 L764.6,428.8 L765.4,427.5 L766.2,426.2 L767.1,424.8 L768.0,423.6 L769.0,422.4 L770.0,421.4 L771.1,420.6 L772.4,420.2 L773.7,420.2 L775.1,420.7 L776.5,421.5 L777.8,422.6 L778.9,423.7 L779.8,425.0 L780.5,426.3 L781.2,427.6 L781.8,428.9 L782.3,430.3 L782.9,431.7 L783.5,433.0 L784.1,434.4 L784.7,435.8 L785.3,437.2 L785.9,438.6 L786.4,440.0 L787.0,441.4 L787.5,442.8 L788.0,444.2 L788.5,445.6 L788.9,447.1 L789.4,448.5 L789.8,449.9 L790.2,451.4 L790.6,452.8 L791.0,454.3 L791.3,455.7 L791.7,457.2 L792.1,458.6 L792.4,460.1 L792.8,461.6 L793.1,463.0 L793.5,464.5 L793.8,465.9 L794.1,467.4 L794.5,468.9 L794.8,470.3 L795.1,471.8 L795.5,473.3 L795.8,474.7 L796.1,476.2 L796.5,477.6 L796.8,479.1 L797.2,480.6 L797.5,482.0 L797.9,483.5 L798.2,484.9 L798.6,486.4 L798.9,487.9 L799.3,489.3 L799.6,490.8 L800.0,492.2 L800.3,493.7 L800.7,495.1 L801.1,496.6 L801.4,498.0 L801.8,499.5 L802.2,501.0 L802.6,502.4 L802.9,503.9 L803.3,505.3 L803.7,506.8 L804.1,508.2 L804.5,509.6 L804.9,511.1 L805.3,512.5 L805.6,514.0 L806.0,515.4 L806.4,516.9 L806.8,518.3 L807.3,519.8 L807.7,521.2 L808.1,522.6 L808.5,524.1 L808.9,525.5 L809.3,527.0 L809.8,528.4 L810.2,529.8 L810.6,531.3 L811.0,532.7 L811.5,534.1 L811.9,535.6 L812.4,537.0 L812.8,538.4 L813.3,539.8 L813.8,541.2 L814.3,542.7 L814.8,544.1 L815.4,545.4 L815.9,546.8 L816.5,548.2 L817.1,549.6 L817.8,550.9 L818.4,552.3 L819.1,553.6 L819.8,554.9 L820.6,556.2 L821.3,557.5 L822.1,558.8 L822.9,560.1 L823.8,561.3 L824.6,562.6 L825.5,563.8 L826.4,565.0 L827.3,566.2 L828.3,567.4 L829.3,568.5 L830.3,569.6 L831.3,570.8 L832.3,571.8 L833.4,572.9 L834.4,573.9 L835.5,575.0 L836.6,575.9 L837.8,576.9 L838.9,577.9 L840.1,578.8 L841.3,579.6 L842.5,580.5 L843.8,581.3 L845.0,582.1 L846.3,582.9 L847.6,583.6 L848.9,584.3 L850.2,585.0 L851.5,585.6 L852.9,586.2 L854.2,586.8 L855.6,587.4 L857.0,587.9 L858.4,588.4 L859.9,588.9 L861.3,589.3 L862.7,589.7 L864.2,590.1 L865.6,590.5 L867.1,590.8 L868.6,591.2 L870.1,591.5 L871.6,591.8 L873.1,592.0 L874.6,592.3 L876.1,592.5 L877.6,592.8 L879.1,593.0 L880.6,593.2 L882.1,593.3 L883.6,593.5 L885.2,593.7 L886.7,593.8 L888.2,593.9 L889.7,594.1 L891.2,594.2 L892.7,594.3 L894.2,594.4 L895.7,594.5 L897.2,594.6 L898.7,594.6 L900.2,594.7 L901.6,594.8 L903.1,594.9 L904.5,594.9 L906.0,595.0" fill="none" stroke="#707080" stroke-width="1.8" stroke-dasharray="0.00 27.84 1.80 35.42 1.80 35.56 1.80 36.97 1.80 36.97 1.80 36.97 1.80 36.97 1.80 37.18 1.80 36.55 1.80 36.44 1.80 37.92 1.80 40.21 1.80 40.15 1.80 40.19 1.80 39.53 1.80 37.20 1.80 37.20 1.80 36.85 1.80 36.48 1.80 36.48 1.80 36.48 1.80 36.48 1.80 36.48 1.80 36.57 1.80 36.65 1.80 36.65 1.80 36.65 1.80 36.65 1.80 36.65 1.80 36.65 1.80 36.19 1.80 36.48 1.80 36.46 1.80 36.42 1.80 37.92 1.80 39.52 1.80 40.20 1.80 40.92 1.80 40.17 1.80 38.59 1.80 39.49 1.80 39.49 1.80 38.65 1.80 38.03 1.80 39.53 1.80 39.46 1.80 36.44 1.80 37.92 1.80 41.57 1.80 39.53 1.80 79.82" opacity="0.85"/>
<path d="M121.6,600.5 L121.6,602.3 L121.8,604.0 L122.3,605.4 L123.0,606.7 L123.9,607.7 L125.0,608.5 L126.2,609.1 L127.6,609.5 L129.0,609.8 L130.5,610.0 L132.0,610.2 L133.5,610.3 L135.0,610.4 L136.5,610.5 L138.0,610.6 L139.5,610.6 L141.0,610.7 L142.5,610.7 L144.0,610.7 L145.5,610.7 L147.0,610.6 L148.5,610.6 L150.1,610.6 L151.6,610.5 L153.1,610.5 L154.6,610.4 L156.2,610.3 L157.7,610.2 L159.2,610.1 L160.7,610.0 L162.2,609.8 L163.7,609.6 L165.2,609.4 L166.6,609.1 L168.0,608.7 L169.4,608.3 L170.8,607.9 L172.2,607.3 L173.5,606.7 L174.7,606.0 L176.0,605.3 L177.2,604.4 L178.3,603.5 L179.4,602.5 L180.5,601.4 L181.5,600.3 L182.5,599.1 L183.5,597.8 L184.5,596.6 L185.4,595.3 L186.3,594.0 L187.1,592.7 L188.0,591.4 L188.8,590.1 L189.7,588.9 L190.5,587.6 L191.3,586.4 L192.1,585.2 L192.9,584.0 L193.8,582.8 L194.6,581.6 L195.4,580.4 L196.3,579.2 L197.1,578.0 L198.0,576.8 L198.9,575.7 L199.8,574.5 L200.8,573.3 L201.7,572.0 L202.7,570.7 L203.6,569.4 L204.6,568.0 L205.6,566.7 L206.7,565.5 L207.8,564.3 L209.0,563.4 L210.2,562.8 L211.6,562.3 L212.9,562.1 L214.4,562.0 L215.8,562.2 L217.2,562.5 L218.6,562.9 L219.9,563.5 L221.2,564.2 L222.5,565.0 L223.7,565.9 L224.8,566.8 L225.9,567.8 L227.0,568.9 L228.1,570.1 L229.1,571.2 L230.1,572.4 L231.2,573.6 L232.2,574.7 L233.3,575.9 L234.4,577.1 L235.5,578.2 L236.6,579.3 L237.7,580.4 L238.8,581.5 L240.0,582.5 L241.1,583.5 L242.3,584.4 L243.5,585.3 L244.8,586.1 L246.0,586.9 L247.3,587.6 L248.6,588.3 L249.9,588.9 L251.3,589.4 L252.6,589.9 L254.0,590.3 L255.4,590.7 L256.8,591.0 L258.3,591.3 L259.7,591.6 L261.2,591.8 L262.7,592.0 L264.1,592.1 L265.6,592.3 L267.1,592.4 L268.7,592.4 L270.2,592.5 L271.7,592.5 L273.2,592.6 L274.8,592.6 L276.3,592.6 L277.8,592.6 L279.3,592.6 L280.9,592.6 L282.4,592.6 L283.9,592.6 L285.5,592.6 L287.0,592.7 L288.5,592.7 L290.0,592.8 L291.5,592.8 L293.0,592.8 L294.5,592.9 L296.0,592.9 L297.5,592.9 L298.9,592.9 L300.4,592.9 L301.9,592.9 L303.4,592.8 L304.9,592.7 L306.4,592.6 L307.8,592.5 L309.3,592.3 L310.8,592.1 L312.3,591.8 L313.7,591.5 L315.2,591.1 L316.7,590.7 L318.1,590.3 L319.5,589.8 L321.0,589.3 L322.3,588.7 L323.7,588.1 L325.0,587.5 L326.3,586.8 L327.6,586.0 L328.9,585.2 L330.1,584.4 L331.3,583.5 L332.4,582.6 L333.5,581.7 L334.6,580.7 L335.7,579.7 L336.8,578.6 L337.8,577.6 L338.8,576.5 L339.8,575.3 L340.7,574.2 L341.6,573.0 L342.5,571.8 L343.4,570.5 L344.3,569.3 L345.1,568.0 L345.9,566.7 L346.7,565.4 L347.5,564.1 L348.2,562.7 L348.9,561.4 L349.7,560.0 L350.3,558.7 L351.0,557.3 L351.7,555.9 L352.3,554.5 L352.9,553.1 L353.5,551.7 L354.1,550.3 L354.6,548.9 L355.2,547.5 L355.7,546.1 L356.2,544.7 L356.8,543.3 L357.3,541.9 L357.7,540.5 L358.2,539.1 L358.7,537.6 L359.1,536.2 L359.6,534.8 L360.0,533.4 L360.4,531.9 L360.9,530.5 L361.3,529.1 L361.7,527.7 L362.1,526.2 L362.5,524.8 L362.9,523.4 L363.3,521.9 L363.7,520.5 L364.1,519.0 L364.5,517.6 L365.0,516.2 L365.4,514.7 L365.8,513.3 L366.2,511.9 L366.6,510.4 L367.0,509.0 L367.4,507.6 L367.9,506.1 L368.3,504.7 L368.7,503.3 L369.2,501.8 L369.7,500.4 L370.1,499.0 L370.6,497.5 L371.1,496.1 L371.6,494.7 L372.1,493.3 L372.6,491.9 L373.2,490.5 L373.7,489.1 L374.3,487.7 L374.9,486.3 L375.5,484.9 L376.1,483.5 L376.7,482.2 L377.4,480.8 L378.0,479.4 L378.7,478.1 L379.4,476.8 L380.1,475.4 L380.9,474.1 L381.7,472.8 L382.4,471.5 L383.3,470.2 L384.1,468.9 L385.0,467.6 L385.9,466.3 L386.8,465.1 L387.8,464.0 L388.9,462.9 L390.1,461.9 L391.3,461.0 L392.6,460.3 L393.9,459.9 L395.3,459.7 L396.7,459.8 L398.0,460.3 L399.3,461.0 L400.6,461.9 L401.7,462.9 L402.7,464.1 L403.5,465.4 L404.3,466.7 L405.1,468.2 L405.7,469.6 L406.3,471.1 L406.8,472.6 L407.3,474.1 L407.8,475.6 L408.2,477.0 L408.7,478.4 L409.1,479.8 L409.5,481.2 L410.0,482.6 L410.4,484.0 L410.9,485.4 L411.3,486.8 L411.8,488.2 L412.2,489.6 L412.7,491.0 L413.1,492.5 L413.6,493.9 L414.0,495.3 L414.5,496.7 L415.0,498.2 L415.4,499.6 L415.9,501.1 L416.3,502.5 L416.8,503.9 L417.2,505.4 L417.6,506.8 L418.1,508.3 L418.5,509.7 L418.9,511.2 L419.3,512.6 L419.8,514.1 L420.2,515.6 L420.6,517.0 L421.0,518.5 L421.3,519.9 L421.7,521.4 L422.1,522.8 L422.5,524.3 L422.8,525.7 L423.2,527.2 L423.5,528.6 L423.9,530.1 L424.2,531.5 L424.6,533.0 L425.0,534.4 L425.3,535.9 L425.7,537.3 L426.1,538.8 L426.4,540.2 L426.8,541.7 L427.2,543.1 L427.6,544.5 L428.1,546.0 L428.5,547.4 L429.0,548.8 L429.4,550.3 L429.9,551.7 L430.4,553.1 L430.9,554.5 L431.4,555.9 L432.0,557.3 L432.6,558.7 L433.2,560.1 L433.8,561.5 L434.4,562.9 L435.1,564.3 L435.8,565.7 L436.6,567.0 L437.3,568.4 L438.1,569.7 L439.0,570.9 L439.9,572.1 L440.8,573.3 L441.8,574.4 L442.8,575.4 L443.9,576.3 L445.0,577.2 L446.1,578.0 L447.4,578.6 L448.7,579.2 L450.0,579.6 L451.4,580.0 L452.9,580.2 L454.4,580.3 L456.0,580.4 L457.5,580.3 L459.1,580.2 L460.7,580.1 L462.3,579.8 L463.9,579.6 L465.4,579.3 L466.9,579.0 L468.4,578.6 L469.8,578.3 L471.3,578.0 L472.7,577.6 L474.1,577.3 L475.5,577.0 L476.9,576.7 L478.3,576.4 L479.8,576.2 L481.2,576.0 L482.7,575.8 L484.1,575.8 L485.6,575.7 L487.1,575.7 L488.7,575.8 L490.2,576.0 L491.7,576.2 L493.3,576.5 L494.8,576.9 L496.2,577.3 L497.7,577.8 L499.1,578.3 L500.5,579.0 L501.8,579.7 L503.1,580.5 L504.4,581.3 L505.6,582.1 L506.8,583.0 L508.1,583.9 L509.3,584.8 L510.5,585.7 L511.7,586.6 L512.9,587.5 L514.1,588.4 L515.3,589.2 L516.6,590.0 L517.8,590.7 L519.1,591.3 L520.5,591.9 L521.8,592.4 L523.3,592.8 L524.7,593.1 L526.2,593.2 L527.7,593.3 L529.2,593.3 L530.8,593.2 L532.3,593.0 L533.7,592.7 L535.1,592.3 L536.5,591.7 L537.8,591.1 L539.1,590.4 L540.3,589.5 L541.4,588.6 L542.6,587.6 L543.6,586.6 L544.7,585.5 L545.7,584.4 L546.7,583.2 L547.7,582.0 L548.7,580.9 L549.7,579.7 L550.7,578.5 L551.7,577.4 L552.8,576.3 L553.9,575.2 L555.0,574.1 L556.1,573.1 L557.2,572.2 L558.4,571.3 L559.6,570.4 L560.8,569.5 L562.0,568.7 L563.3,567.9 L564.6,567.2 L565.9,566.5 L567.2,565.9 L568.6,565.2 L570.0,564.7 L571.4,564.1 L572.8,563.6 L574.2,563.2 L575.6,562.7 L577.1,562.3 L578.6,562.0 L580.0,561.7 L581.5,561.4 L583.0,561.1 L584.5,560.9 L586.0,560.7 L587.5,560.5 L589.0,560.4 L590.5,560.3 L592.0,560.2 L593.5,560.2 L595.0,560.2 L596.5,560.3 L598.0,560.4 L599.5,560.5 L601.0,560.7 L602.4,561.0 L603.9,561.3 L605.4,561.6 L606.8,562.0 L608.2,562.4 L609.7,562.8 L611.1,563.2 L612.5,563.6 L614.0,564.1 L615.4,564.5 L616.9,564.8 L618.3,565.2 L619.8,565.5 L621.3,565.8 L622.8,566.0 L624.3,566.1 L625.8,566.2 L627.3,566.3 L628.8,566.3 L630.3,566.3 L631.8,566.2 L633.3,566.1 L634.8,566.0 L636.3,565.8 L637.8,565.6 L639.3,565.3 L640.7,565.0 L642.2,564.7 L643.7,564.3 L645.1,563.9 L646.5,563.5 L648.0,563.1 L649.4,562.6 L650.8,562.1 L652.2,561.6 L653.6,561.1 L655.0,560.6 L656.4,560.1 L657.8,559.6 L659.2,559.1 L660.7,558.5 L662.1,558.0 L663.5,557.5 L664.9,557.0 L666.3,556.6 L667.8,556.1 L669.2,555.7 L670.7,555.3 L672.1,554.9 L673.6,554.6 L675.0,554.3 L676.5,554.0 L678.0,553.8 L679.5,553.6 L681.0,553.5 L682.5,553.4 L684.0,553.3 L685.5,553.2 L687.0,553.2 L688.5,553.1 L690.1,553.1 L691.6,553.0 L693.1,552.9 L694.6,552.8 L696.1,552.6 L697.6,552.4 L699.1,552.1 L700.5,551.8 L702.0,551.4 L703.4,551.0 L704.9,550.5 L706.3,549.9 L707.6,549.3 L709.0,548.6 L710.3,547.9 L711.6,547.1 L712.9,546.3 L714.1,545.4 L715.3,544.5 L716.4,543.5 L717.5,542.5 L718.5,541.5 L719.5,540.4 L720.5,539.3 L721.4,538.2 L722.2,537.0 L723.0,535.9 L723.8,534.6 L724.6,533.4 L725.2,532.1 L725.9,530.8 L726.5,529.5 L727.1,528.1 L727.7,526.8 L728.2,525.4 L728.7,524.0 L729.2,522.6 L729.7,521.1 L730.1,519.7 L730.5,518.2 L730.9,516.8 L731.3,515.3 L731.7,513.8 L732.1,512.3 L732.4,510.8 L732.7,509.3 L733.1,507.8 L733.4,506.3 L733.7,504.8 L734.0,503.3 L734.3,501.7 L734.6,500.2 L734.9,498.7 L735.2,497.3 L735.5,495.8 L735.9,494.3 L736.2,492.8 L736.5,491.3 L736.8,489.8 L737.1,488.4 L737.4,486.9 L737.7,485.4 L738.0,484.0 L738.3,482.5 L738.6,481.1 L738.9,479.6 L739.2,478.1 L739.5,476.7 L739.8,475.2 L740.1,473.8 L740.4,472.3 L740.7,470.9 L741.0,469.4 L741.3,467.9 L741.6,466.5 L741.8,465.0 L742.1,463.6 L742.4,462.1 L742.6,460.6 L742.9,459.2 L743.2,457.7 L743.4,456.2 L743.7,454.8 L743.9,453.3 L744.1,451.8 L744.3,450.3 L744.6,448.9 L744.8,447.4 L745.0,445.9 L745.2,444.4 L745.4,442.9 L745.6,441.4 L745.8,439.9 L746.0,438.4 L746.2,436.9 L746.4,435.4 L746.6,433.9 L746.8,432.4 L747.0,430.9 L747.2,429.4 L747.4,427.9 L747.6,426.4 L747.8,424.9 L748.1,423.4 L748.3,421.9 L748.5,420.5 L748.7,419.0 L748.9,417.5 L749.2,416.0 L749.4,414.5 L749.7,413.0 L749.9,411.5 L750.2,410.0 L750.4,408.6 L750.7,407.1 L751.0,405.6 L751.3,404.1 L751.6,402.7 L751.9,401.2 L752.2,399.7 L752.5,398.3 L752.8,396.8 L753.2,395.3 L753.5,393.9 L753.8,392.4 L754.2,391.0 L754.5,389.5 L754.8,388.0 L755.2,386.6 L755.5,385.1 L755.9,383.7 L756.2,382.2 L756.6,380.8 L756.9,379.3 L757.2,377.8 L757.6,376.4 L757.9,374.9 L758.3,373.5 L758.6,372.0 L758.9,370.5 L759.2,369.1 L759.6,367.6 L759.9,366.1 L760.2,364.7 L760.5,363.2 L760.8,361.7 L761.2,360.2 L761.5,358.8 L761.8,357.3 L762.1,355.8 L762.5,354.4 L762.8,352.9 L763.2,351.5 L763.5,350.0 L763.9,348.6 L764.3,347.2 L764.7,345.7 L765.2,344.3 L765.7,342.8 L766.2,341.3 L766.8,339.8 L767.5,338.3 L768.3,336.8 L769.1,335.5 L770.1,334.3 L771.2,333.4 L772.4,332.7 L773.6,332.5 L774.8,332.6 L776.0,333.1 L777.1,333.9 L778.2,335.0 L779.1,336.2 L780.0,337.6 L780.7,339.0 L781.4,340.5 L782.0,342.0 L782.5,343.5 L783.0,345.1 L783.5,346.6 L783.9,348.1 L784.3,349.5 L784.7,351.0 L785.1,352.4 L785.4,353.9 L785.7,355.3 L786.1,356.7 L786.4,358.2 L786.7,359.6 L787.1,361.0 L787.4,362.5 L787.7,363.9 L788.1,365.4 L788.4,366.8 L788.8,368.2 L789.1,369.7 L789.5,371.2 L789.8,372.6 L790.2,374.1 L790.5,375.5 L790.9,377.0 L791.2,378.5 L791.6,379.9 L791.9,381.4 L792.2,382.9 L792.6,384.4 L792.9,385.8 L793.2,387.3 L793.6,388.8 L793.9,390.3 L794.2,391.7 L794.5,393.2 L794.8,394.7 L795.1,396.2 L795.3,397.7 L795.6,399.2 L795.9,400.6 L796.1,402.1 L796.4,403.6 L796.6,405.1 L796.8,406.6 L797.1,408.1 L797.3,409.5 L797.5,411.0 L797.7,412.5 L797.9,414.0 L798.1,415.5 L798.4,417.0 L798.6,418.4 L798.8,419.9 L799.0,421.4 L799.2,422.9 L799.4,424.4 L799.6,425.9 L799.8,427.3 L800.0,428.8 L800.2,430.3 L800.4,431.8 L800.6,433.3 L800.8,434.8 L801.0,436.2 L801.2,437.7 L801.4,439.2 L801.6,440.7 L801.9,442.2 L802.1,443.6 L802.3,445.1 L802.6,446.6 L802.8,448.1 L803.1,449.6 L803.4,451.0 L803.6,452.5 L803.9,454.0 L804.2,455.5 L804.5,457.0 L804.7,458.4 L805.0,459.9 L805.3,461.4 L805.6,462.9 L805.9,464.3 L806.2,465.8 L806.5,467.3 L806.8,468.7 L807.2,470.2 L807.5,471.7 L807.8,473.2 L808.1,474.6 L808.4,476.1 L808.8,477.6 L809.1,479.0 L809.4,480.5 L809.7,482.0 L810.1,483.4 L810.4,484.9 L810.7,486.4 L811.1,487.8 L811.4,489.3 L811.7,490.8 L812.1,492.2 L812.4,493.7 L812.7,495.2 L813.1,496.6 L813.4,498.1 L813.7,499.5 L814.1,501.0 L814.4,502.5 L814.8,503.9 L815.1,505.4 L815.4,506.8 L815.8,508.3 L816.1,509.7 L816.5,511.2 L816.8,512.6 L817.2,514.1 L817.6,515.6 L817.9,517.0 L818.3,518.5 L818.7,519.9 L819.1,521.3 L819.4,522.8 L819.8,524.2 L820.2,525.7 L820.7,527.1 L821.1,528.6 L821.5,530.0 L821.9,531.5 L822.4,532.9 L822.8,534.3 L823.3,535.8 L823.7,537.2 L824.2,538.6 L824.7,540.1 L825.2,541.5 L825.7,542.9 L826.2,544.4 L826.7,545.8 L827.3,547.2 L827.8,548.6 L828.4,550.0 L829.0,551.4 L829.6,552.8 L830.3,554.2 L830.9,555.5 L831.6,556.9 L832.3,558.2 L833.0,559.5 L833.8,560.8 L834.6,562.0 L835.4,563.3 L836.2,564.5 L837.1,565.7 L838.0,566.9 L839.0,568.0 L840.0,569.1 L841.0,570.2 L842.0,571.2 L843.1,572.2 L844.2,573.2 L845.4,574.2 L846.5,575.1 L847.7,576.0 L849.0,576.9 L850.2,577.7 L851.5,578.6 L852.7,579.3 L854.0,580.1 L855.4,580.8 L856.7,581.6 L858.0,582.2 L859.4,582.9 L860.8,583.5 L862.1,584.1 L863.5,584.7 L864.9,585.3 L866.3,585.8 L867.7,586.3 L869.2,586.8 L870.6,587.2 L872.0,587.7 L873.5,588.1 L874.9,588.5 L876.4,588.9 L877.8,589.3 L879.3,589.6 L880.8,589.9 L882.2,590.3 L883.7,590.6 L885.2,590.8 L886.7,591.1 L888.1,591.4 L889.6,591.6 L891.1,591.8 L892.6,592.0 L894.0,592.2 L895.5,592.4 L897.0,592.6 L898.5,592.8 L900.0,592.9 L901.5,593.1 L903.0,593.2 L904.5,593.4 L906.0,593.5" fill="none" stroke="#0000f0" stroke-width="4.5" stroke-linejoin="round"/>
<path d="M120.8,621.9 L122.4,622.0 L124.0,622.1 L125.5,622.1 L127.1,622.2 L128.6,622.1 L130.1,622.1 L131.5,622.1 L133.0,622.0 L134.4,622.0 L135.9,621.9 L137.3,621.8 L138.7,621.7 L140.2,621.7 L141.6,621.6 L143.1,621.5 L144.5,621.5 L146.0,621.5 L147.5,621.5 L149.0,621.5 L150.5,621.5 L152.1,621.6 L153.6,621.7 L155.2,621.8 L156.8,621.9 L158.5,622.1 L160.1,622.2 L161.6,622.2 L163.2,622.2 L164.8,622.2 L166.3,622.1 L167.7,621.9 L169.2,621.6 L170.5,621.2 L171.8,620.7 L173.0,620.1 L174.2,619.3 L175.3,618.5 L176.4,617.6 L177.5,616.6 L178.4,615.6 L179.4,614.4 L180.3,613.3 L181.2,612.0 L182.0,610.7 L182.9,609.4 L183.7,608.1 L184.5,606.7 L185.2,605.4 L186.0,604.0 L186.7,602.6 L187.5,601.3 L188.2,599.9 L189.0,598.6 L189.8,597.3 L190.5,596.0 L191.3,594.8 L192.1,593.6 L192.9,592.4 L193.7,591.2 L194.5,590.0 L195.4,588.9 L196.3,587.7 L197.2,586.5 L198.1,585.4 L199.1,584.2 L200.1,583.0 L201.1,581.7 L202.1,580.5 L203.2,579.3 L204.3,578.1 L205.5,577.1 L206.7,576.3 L207.9,575.7 L209.1,575.5 L210.4,575.7 L211.7,576.3 L213.0,577.1 L214.2,578.2 L215.4,579.3 L216.6,580.4 L217.7,581.6 L218.8,582.7 L219.8,583.9 L220.8,585.0 L221.7,586.2 L222.7,587.3 L223.6,588.5 L224.4,589.6 L225.3,590.7 L226.1,591.9 L227.0,593.1 L227.8,594.3 L228.6,595.6 L229.3,596.9 L230.1,598.2 L230.9,599.6 L231.7,601.0 L232.5,602.4 L233.3,603.7 L234.1,605.1 L235.0,606.4 L235.9,607.6 L236.8,608.8 L237.8,609.9 L238.9,610.9 L240.0,611.9 L241.1,612.8 L242.3,613.6 L243.5,614.3 L244.8,614.9 L246.1,615.5 L247.4,616.0 L248.8,616.5 L250.2,616.9 L251.6,617.2 L253.1,617.5 L254.6,617.7 L256.1,617.9 L257.6,618.0 L259.1,618.0 L260.6,618.0 L262.1,617.9 L263.7,617.9 L265.2,617.7 L266.8,617.5 L268.3,617.3 L269.8,617.0 L271.3,616.7 L272.9,616.4 L274.3,616.0 L275.8,615.6 L277.3,615.2 L278.7,614.7 L280.1,614.3 L281.5,613.8 L282.9,613.3 L284.3,612.7 L285.6,612.2 L287.0,611.6 L288.4,611.1 L289.7,610.5 L291.1,609.9 L292.4,609.4 L293.8,608.8 L295.2,608.3 L296.6,607.8 L298.0,607.3 L299.4,606.8 L300.8,606.3 L302.3,605.9 L303.7,605.4 L305.2,605.1 L306.6,604.7 L308.1,604.4 L309.6,604.1 L311.1,603.8 L312.5,603.6 L314.0,603.4 L315.5,603.2 L317.0,603.0 L318.5,602.8 L319.9,602.5 L321.4,602.2 L322.8,601.9 L324.2,601.5 L325.6,601.0 L327.0,600.4 L328.3,599.8 L329.6,599.0 L330.9,598.2 L332.2,597.3 L333.4,596.4 L334.6,595.4 L335.7,594.3 L336.8,593.2 L337.8,592.1 L338.8,590.9 L339.7,589.7 L340.6,588.4 L341.4,587.2 L342.2,585.9 L342.9,584.6 L343.5,583.3 L344.2,581.9 L344.7,580.6 L345.3,579.2 L345.8,577.8 L346.2,576.4 L346.6,575.0 L347.0,573.6 L347.4,572.1 L347.7,570.7 L348.1,569.2 L348.4,567.8 L348.7,566.3 L348.9,564.8 L349.2,563.3 L349.4,561.8 L349.7,560.4 L349.9,558.9 L350.1,557.4 L350.4,555.9 L350.6,554.4 L350.8,552.9 L351.0,551.4 L351.3,549.9 L351.5,548.4 L351.7,546.9 L351.9,545.5 L352.1,544.0 L352.3,542.5 L352.5,541.0 L352.7,539.5 L352.9,538.0 L353.1,536.5 L353.3,535.0 L353.5,533.5 L353.7,532.0 L353.9,530.5 L354.1,529.0 L354.2,527.6 L354.4,526.1 L354.6,524.6 L354.8,523.1 L355.0,521.6 L355.1,520.1 L355.3,518.6 L355.5,517.1 L355.7,515.6 L355.8,514.1 L356.0,512.6 L356.2,511.1 L356.3,509.6 L356.5,508.2 L356.6,506.7 L356.8,505.2 L357.0,503.7 L357.1,502.2 L357.3,500.7 L357.4,499.2 L357.6,497.7 L357.7,496.2 L357.9,494.7 L358.0,493.2 L358.2,491.7 L358.3,490.2 L358.5,488.7 L358.6,487.2 L358.8,485.7 L358.9,484.2 L359.1,482.8 L359.2,481.3 L359.4,479.8 L359.5,478.3 L359.6,476.8 L359.8,475.3 L359.9,473.8 L360.1,472.3 L360.2,470.8 L360.4,469.3 L360.5,467.8 L360.6,466.3 L360.8,464.8 L360.9,463.3 L361.1,461.8 L361.2,460.3 L361.3,458.8 L361.5,457.4 L361.6,455.9 L361.8,454.4 L361.9,452.9 L362.1,451.4 L362.2,449.9 L362.3,448.4 L362.5,446.9 L362.6,445.4 L362.8,443.9 L362.9,442.4 L363.1,440.9 L363.2,439.4 L363.4,437.9 L363.5,436.4 L363.7,434.9 L363.8,433.5 L364.0,432.0 L364.1,430.5 L364.3,429.0 L364.4,427.5 L364.6,426.0 L364.7,424.5 L364.9,423.0 L365.0,421.5 L365.2,420.0 L365.4,418.5 L365.5,417.0 L365.7,415.5 L365.9,414.0 L366.0,412.6 L366.2,411.1 L366.4,409.6 L366.5,408.1 L366.7,406.6 L366.9,405.1 L367.1,403.6 L367.2,402.1 L367.4,400.6 L367.6,399.1 L367.8,397.6 L368.0,396.1 L368.1,394.7 L368.3,393.2 L368.5,391.7 L368.7,390.2 L368.9,388.7 L369.1,387.2 L369.3,385.7 L369.5,384.2 L369.7,382.7 L369.9,381.3 L370.1,379.8 L370.3,378.3 L370.5,376.8 L370.8,375.3 L371.0,373.8 L371.2,372.3 L371.4,370.8 L371.6,369.3 L371.8,367.9 L372.0,366.4 L372.3,364.9 L372.5,363.4 L372.7,361.9 L372.9,360.4 L373.1,358.9 L373.3,357.4 L373.5,356.0 L373.8,354.5 L374.0,353.0 L374.2,351.5 L374.4,350.0 L374.6,348.5 L374.8,347.0 L375.0,345.5 L375.2,344.1 L375.4,342.6 L375.7,341.1 L375.9,339.6 L376.1,338.1 L376.3,336.6 L376.5,335.1 L376.7,333.6 L376.9,332.2 L377.1,330.7 L377.3,329.2 L377.5,327.7 L377.8,326.2 L378.0,324.7 L378.2,323.3 L378.5,321.8 L378.7,320.3 L379.0,318.8 L379.3,317.4 L379.6,315.9 L379.9,314.4 L380.2,313.0 L380.5,311.5 L380.8,310.1 L381.2,308.6 L381.6,307.1 L382.0,305.7 L382.4,304.3 L382.8,302.8 L383.2,301.4 L383.7,299.9 L384.2,298.5 L384.7,297.1 L385.3,295.7 L385.9,294.2 L386.6,292.8 L387.4,291.4 L388.2,289.9 L389.2,288.5 L390.2,287.2 L391.3,286.1 L392.4,285.3 L393.3,285.1 L394.2,285.5 L395.0,286.4 L395.6,287.7 L396.2,289.3 L396.8,290.9 L397.4,292.6 L397.9,294.2 L398.4,295.8 L398.9,297.4 L399.3,298.8 L399.7,300.2 L400.1,301.7 L400.5,303.1 L400.8,304.5 L401.1,306.0 L401.4,307.4 L401.7,308.8 L402.0,310.3 L402.2,311.8 L402.4,313.2 L402.7,314.7 L402.9,316.2 L403.0,317.7 L403.2,319.2 L403.4,320.7 L403.5,322.1 L403.7,323.6 L403.8,325.1 L403.9,326.6 L404.0,328.1 L404.2,329.6 L404.3,331.2 L404.4,332.7 L404.5,334.2 L404.6,335.7 L404.7,337.2 L404.9,338.7 L405.0,340.2 L405.1,341.7 L405.3,343.2 L405.4,344.7 L405.5,346.2 L405.7,347.7 L405.9,349.2 L406.0,350.7 L406.2,352.2 L406.4,353.7 L406.5,355.2 L406.7,356.7 L406.9,358.2 L407.1,359.6 L407.3,361.1 L407.4,362.6 L407.6,364.1 L407.8,365.6 L408.0,367.1 L408.2,368.6 L408.4,370.1 L408.6,371.5 L408.8,373.0 L409.0,374.5 L409.2,376.0 L409.4,377.5 L409.6,379.0 L409.7,380.5 L409.9,382.0 L410.1,383.4 L410.3,384.9 L410.5,386.4 L410.6,387.9 L410.8,389.4 L411.0,390.9 L411.1,392.4 L411.3,393.9 L411.5,395.4 L411.6,396.9 L411.8,398.3 L411.9,399.8 L412.1,401.3 L412.2,402.8 L412.3,404.3 L412.5,405.8 L412.6,407.3 L412.7,408.8 L412.9,410.3 L413.0,411.8 L413.1,413.3 L413.2,414.8 L413.4,416.3 L413.5,417.8 L413.6,419.3 L413.7,420.8 L413.9,422.3 L414.0,423.8 L414.1,425.3 L414.2,426.8 L414.4,428.3 L414.5,429.8 L414.6,431.3 L414.7,432.8 L414.9,434.3 L415.0,435.7 L415.1,437.2 L415.3,438.7 L415.4,440.2 L415.5,441.7 L415.7,443.2 L415.8,444.7 L416.0,446.2 L416.1,447.7 L416.3,449.2 L416.4,450.7 L416.5,452.2 L416.7,453.7 L416.8,455.2 L417.0,456.7 L417.1,458.2 L417.3,459.7 L417.5,461.2 L417.6,462.7 L417.8,464.2 L417.9,465.7 L418.1,467.1 L418.2,468.6 L418.4,470.1 L418.6,471.6 L418.7,473.1 L418.9,474.6 L419.0,476.1 L419.2,477.6 L419.4,479.1 L419.5,480.6 L419.7,482.1 L419.9,483.6 L420.0,485.1 L420.2,486.6 L420.4,488.0 L420.5,489.5 L420.7,491.0 L420.9,492.5 L421.0,494.0 L421.2,495.5 L421.4,497.0 L421.5,498.5 L421.7,500.0 L421.8,501.5 L422.0,503.0 L422.2,504.5 L422.3,506.0 L422.5,507.5 L422.7,508.9 L422.8,510.4 L423.0,511.9 L423.2,513.4 L423.3,514.9 L423.5,516.4 L423.6,517.9 L423.8,519.4 L424.0,520.9 L424.1,522.4 L424.3,523.9 L424.4,525.4 L424.6,526.9 L424.7,528.3 L424.9,529.8 L425.1,531.3 L425.2,532.8 L425.4,534.3 L425.5,535.8 L425.7,537.3 L425.8,538.8 L426.0,540.3 L426.1,541.8 L426.3,543.3 L426.5,544.8 L426.6,546.3 L426.8,547.8 L426.9,549.2 L427.1,550.7 L427.3,552.2 L427.4,553.7 L427.6,555.2 L427.8,556.7 L427.9,558.2 L428.1,559.7 L428.3,561.2 L428.4,562.7 L428.6,564.2 L428.8,565.7 L429.0,567.1 L429.2,568.6 L429.3,570.1 L429.5,571.6 L429.7,573.1 L429.9,574.6 L430.1,576.1 L430.3,577.6 L430.5,579.1 L430.7,580.6 L430.9,582.1 L431.1,583.5 L431.3,585.0 L431.5,586.5 L431.7,588.0 L432.0,589.5 L432.2,591.0 L432.4,592.5 L432.6,594.0 L432.9,595.5 L433.1,596.9 L433.4,598.4 L433.6,599.9 L433.8,601.4 L434.1,602.9 L434.4,604.4 L434.6,605.9 L434.9,607.3 L435.2,608.8 L435.5,610.3 L435.9,611.7 L436.3,613.2 L436.8,614.6 L437.4,616.0 L438.0,617.4 L438.8,618.6 L439.7,619.8 L440.7,620.7 L441.9,621.4 L443.1,621.8 L444.5,622.0 L446.0,622.1 L447.6,622.0 L449.2,621.9 L450.8,621.7 L452.4,621.5 L454.0,621.3 L455.5,621.3 L457.0,621.2 L458.5,621.2 L460.0,621.2 L461.5,621.3 L463.0,621.3 L464.5,621.3 L466.0,621.3 L467.5,621.3 L469.0,621.3 L470.5,621.4 L472.0,621.4 L473.5,621.4 L474.9,621.4 L476.4,621.4 L477.9,621.4 L479.4,621.4 L480.9,621.4 L482.4,621.4 L483.9,621.4 L485.4,621.4 L486.9,621.4 L488.4,621.4 L489.9,621.4 L491.4,621.4 L492.9,621.4 L494.4,621.4 L495.9,621.4 L497.4,621.4 L499.0,621.4 L500.5,621.4 L502.0,621.4 L503.5,621.4 L505.0,621.4 L506.5,621.4 L508.0,621.4 L509.5,621.4 L511.0,621.4 L512.5,621.4 L514.0,621.4 L515.5,621.4 L517.0,621.4 L518.5,621.4 L520.0,621.4 L521.5,621.4 L523.0,621.4 L524.5,621.4 L526.0,621.4 L527.5,621.4 L529.0,621.4 L530.5,621.4 L532.0,621.4 L533.5,621.4 L535.0,621.4 L536.5,621.4 L538.0,621.4 L539.5,621.4 L541.0,621.4 L542.5,621.4 L544.0,621.4 L545.5,621.4 L547.0,621.4 L548.5,621.4 L550.0,621.4 L551.5,621.4 L553.0,621.4 L554.5,621.4 L556.1,621.4 L557.6,621.4 L559.1,621.4 L560.6,621.4 L562.1,621.4 L563.6,621.4 L565.1,621.4 L566.6,621.4 L568.1,621.4 L569.6,621.4 L571.1,621.4 L572.6,621.4 L574.1,621.4 L575.6,621.4 L577.1,621.4 L578.6,621.4 L580.1,621.4 L581.6,621.4 L583.1,621.4 L584.6,621.4 L586.1,621.4 L587.6,621.4 L589.1,621.4 L590.6,621.4 L592.1,621.4 L593.6,621.4 L595.1,621.4 L596.6,621.4 L598.1,621.4 L599.6,621.4 L601.1,621.4 L602.6,621.4 L604.1,621.4 L605.6,621.4 L607.1,621.4 L608.6,621.4 L610.1,621.4 L611.6,621.4 L613.1,621.4 L614.6,621.4 L616.1,621.4 L617.6,621.4 L619.1,621.4 L620.6,621.4 L622.1,621.4 L623.6,621.4 L625.1,621.4 L626.6,621.4 L628.1,621.4 L629.6,621.4 L631.2,621.4 L632.7,621.4 L634.2,621.4 L635.7,621.4 L637.2,621.4 L638.7,621.4 L640.2,621.4 L641.7,621.4 L643.2,621.4 L644.7,621.4 L646.2,621.4 L647.7,621.4 L649.2,621.4 L650.7,621.4 L652.2,621.4 L653.7,621.4 L655.2,621.4 L656.7,621.4 L658.2,621.4 L659.7,621.4 L661.2,621.4 L662.7,621.4 L664.2,621.4 L665.7,621.4 L667.2,621.4 L668.7,621.4 L670.2,621.4 L671.7,621.4 L673.2,621.4 L674.7,621.4 L676.2,621.4 L677.7,621.4 L679.2,621.4 L680.7,621.4 L682.2,621.4 L683.7,621.4 L685.2,621.4 L686.7,621.4 L688.2,621.4 L689.7,621.4 L691.2,621.4 L692.7,621.4 L694.2,621.4 L695.7,621.4 L697.2,621.4 L698.7,621.4 L700.2,621.4 L701.7,621.4 L703.2,621.4 L704.7,621.4 L706.2,621.4 L707.7,621.4 L709.2,621.4 L710.7,621.4 L712.2,621.4 L713.7,621.4 L715.2,621.4 L716.8,621.4 L718.3,621.4 L719.8,621.4 L721.3,621.4 L722.8,621.4 L724.3,621.4 L725.8,621.4 L727.3,621.4 L728.8,621.4 L730.3,621.4 L731.8,621.4 L733.3,621.4 L734.8,621.4 L736.3,621.4 L737.8,621.4 L739.3,621.4 L740.8,621.4 L742.3,621.4 L743.8,621.4 L745.3,621.4 L746.8,621.4 L748.3,621.4 L749.8,621.4 L751.3,621.4 L752.8,621.4 L754.3,621.4 L755.8,621.4 L757.3,621.4 L758.8,621.4 L760.3,621.4 L761.8,621.4 L763.3,621.4 L764.8,621.4 L766.3,621.4 L767.8,621.4 L769.3,621.4 L770.8,621.4 L772.3,621.4 L773.8,621.4 L775.3,621.4 L776.8,621.4 L778.3,621.4 L779.8,621.4 L781.3,621.4 L782.8,621.4 L784.3,621.4 L785.8,621.4 L787.3,621.4 L788.8,621.4 L790.4,621.4 L791.9,621.4 L793.4,621.4 L794.9,621.4 L796.4,621.4 L797.9,621.4 L799.4,621.4 L800.9,621.4 L802.4,621.4 L803.9,621.4 L805.4,621.4 L806.9,621.4 L808.4,621.4 L809.9,621.4 L811.4,621.4 L812.9,621.4 L814.4,621.4 L815.9,621.4 L817.4,621.4 L818.9,621.4 L820.4,621.4 L821.9,621.4 L823.4,621.4 L824.9,621.4 L826.4,621.4 L827.9,621.4 L829.4,621.4 L830.9,621.4 L832.4,621.4 L833.9,621.4 L835.4,621.4 L836.9,621.4 L838.4,621.4 L839.9,621.4 L841.4,621.4 L842.9,621.4 L844.4,621.4 L845.9,621.4 L847.4,621.4 L848.9,621.4 L850.4,621.4 L851.9,621.4 L853.4,621.4 L854.9,621.4 L856.4,621.4 L857.9,621.4 L859.4,621.4 L860.9,621.4 L862.4,621.4 L863.9,621.4 L865.5,621.4 L867.0,621.4 L868.5,621.4 L870.0,621.4 L871.5,621.4 L873.0,621.4 L874.5,621.4 L876.0,621.4 L877.5,621.4 L879.0,621.4 L880.5,621.4 L882.0,621.4 L883.5,621.4 L885.0,621.4 L886.5,621.4 L888.0,621.4 L889.5,621.4 L891.0,621.4 L892.5,621.4 L894.0,621.4 L895.5,621.4 L897.0,621.4 L898.5,621.4 L900.0,621.4 L901.5,621.4 L903.0,621.4 L904.5,621.4 L906.0,621.4" fill="none" stroke="#007d00" stroke-width="4.5" stroke-dasharray="0.00 9.57 18.50 20.00 18.50 20.00 18.50 28.18 18.50 22.79 18.50 22.79 18.50 20.50 18.50 20.50 18.50 19.11 18.50 19.05 18.50 20.52 18.50 19.03 18.50 20.15 18.50 20.15 18.50 20.15 18.50 20.54 18.50 20.54 18.50 20.54 18.50 19.03 18.50 19.06 18.50 19.05 18.50 20.00 18.50 20.00 18.50 20.00 18.50 20.00 18.50 20.00 18.50 20.00 18.50 20.00 18.50 20.00 18.50 20.00 18.50 20.00 18.50 20.00 18.50 20.00 18.50 20.00 18.50 20.00 18.50 20.00 17.39 50.00"/>
<path d="M120.8,621.9 L122.4,622.0 L124.0,622.1 L125.5,622.1 L127.1,622.2 L128.6,622.1 L130.1,622.1 L131.5,622.1 L133.0,622.0 L134.4,622.0 L135.9,621.9 L137.3,621.8 L138.7,621.7 L140.2,621.7 L141.6,621.6 L143.1,621.5 L144.5,621.5 L146.0,621.5 L147.5,621.5 L149.0,621.5 L150.5,621.5 L152.1,621.6 L153.6,621.7 L155.2,621.8 L156.8,621.9 L158.5,622.1 L160.1,622.2 L161.6,622.2 L163.2,622.2 L164.8,622.2 L166.3,622.1 L167.7,621.9 L169.2,621.6 L170.5,621.2 L171.8,620.7 L173.0,620.1 L174.2,619.3 L175.3,618.5 L176.4,617.6 L177.5,616.6 L178.4,615.6 L179.4,614.4 L180.3,613.3 L181.2,612.0 L182.0,610.7 L182.9,609.4 L183.7,608.1 L184.5,606.7 L185.2,605.4 L186.0,604.0 L186.7,602.6 L187.5,601.3 L188.2,599.9 L189.0,598.6 L189.8,597.3 L190.5,596.0 L191.3,594.8 L192.1,593.6 L192.9,592.4 L193.7,591.2 L194.5,590.0 L195.4,588.9 L196.3,587.7 L197.2,586.5 L198.1,585.4 L199.1,584.2 L200.1,583.0 L201.1,581.7 L202.1,580.5 L203.2,579.3 L204.3,578.1 L205.5,577.1 L206.7,576.3 L207.9,575.7 L209.1,575.5 L210.4,575.7 L211.7,576.3 L213.0,577.1 L214.2,578.2 L215.4,579.3 L216.6,580.4 L217.7,581.6 L218.8,582.7 L219.8,583.9 L220.8,585.0 L221.7,586.2 L222.7,587.3 L223.6,588.5 L224.4,589.6 L225.3,590.7 L226.1,591.9 L227.0,593.1 L227.8,594.3 L228.6,595.6 L229.3,596.9 L230.1,598.2 L230.9,599.6 L231.7,601.0 L232.5,602.4 L233.3,603.7 L234.1,605.1 L235.0,606.4 L235.9,607.6 L236.8,608.8 L237.8,609.9 L238.9,610.9 L240.0,611.9 L241.1,612.8 L242.3,613.6 L243.5,614.3 L244.8,614.9 L246.1,615.5 L247.4,616.0 L248.8,616.5 L250.2,616.9 L251.6,617.2 L253.1,617.5 L254.6,617.7 L256.1,617.9 L257.6,618.0 L259.1,618.0 L260.6,618.0 L262.1,617.9 L263.7,617.9 L265.2,617.7 L266.8,617.5 L268.3,617.3 L269.8,617.0 L271.3,616.7 L272.9,616.4 L274.3,616.0 L275.8,615.6 L277.3,615.2 L278.7,614.7 L280.1,614.3 L281.5,613.8 L282.9,613.3 L284.3,612.7 L285.6,612.2 L287.0,611.6 L288.4,611.1 L289.7,610.5 L291.1,609.9 L292.4,609.4 L293.8,608.8 L295.2,608.3 L296.6,607.8 L298.0,607.3 L299.4,606.8 L300.8,606.3 L302.3,605.9 L303.7,605.4 L305.2,605.1 L306.6,604.7 L308.1,604.4 L309.6,604.1 L311.1,603.8 L312.5,603.6 L314.0,603.4 L315.5,603.2 L317.0,603.0 L318.5,602.8 L319.9,602.5 L321.4,602.2 L322.8,601.9 L324.2,601.5 L325.6,601.0 L327.0,600.4 L328.3,599.8 L329.6,599.0 L330.9,598.2 L332.2,597.3 L333.4,596.4 L334.6,595.4 L335.7,594.3 L336.8,593.2 L337.8,592.1 L338.8,590.9 L339.7,589.7 L340.6,588.4 L341.4,587.2 L342.2,585.9 L342.9,584.6 L343.5,583.3 L344.2,581.9 L344.7,580.6 L345.3,579.2 L345.8,577.8 L346.2,576.4 L346.6,575.0 L347.0,573.6 L347.4,572.1 L347.7,570.7 L348.1,569.2 L348.4,567.8 L348.7,566.3 L348.9,564.8 L349.2,563.3 L349.4,561.8 L349.7,560.4 L349.9,558.9 L350.1,557.4 L350.4,555.9 L350.6,554.4 L350.8,552.9 L351.0,551.4 L351.3,549.9 L351.5,548.4 L351.7,546.9 L351.9,545.5 L352.1,544.0 L352.3,542.5 L352.5,541.0 L352.7,539.5 L352.9,538.0 L353.1,536.5 L353.3,535.0 L353.5,533.5 L353.7,532.0 L353.9,530.5 L354.1,529.0 L354.2,527.6 L354.4,526.1 L354.6,524.6 L354.8,523.1 L355.0,521.6 L355.1,520.1 L355.3,518.6 L355.5,517.1 L355.7,515.6 L355.8,514.1 L356.0,512.6 L356.2,511.1 L356.3,509.6 L356.5,508.2 L356.6,506.7 L356.8,505.2 L357.0,503.7 L357.1,502.2 L357.3,500.7 L357.4,499.2 L357.6,497.7 L357.7,496.2 L357.9,494.7 L358.0,493.2 L358.2,491.7 L358.3,490.2 L358.5,488.7 L358.6,487.2 L358.8,485.7 L358.9,484.2 L359.1,482.8 L359.2,481.3 L359.4,479.8 L359.5,478.3 L359.6,476.8 L359.8,475.3 L359.9,473.8 L360.1,472.3 L360.2,470.8 L360.4,469.3 L360.5,467.8 L360.6,466.3 L360.8,464.8 L360.9,463.3 L361.1,461.8 L361.2,460.3 L361.3,458.8 L361.5,457.4 L361.6,455.9 L361.8,454.4 L361.9,452.9 L362.1,451.4 L362.2,449.9 L362.3,448.4 L362.5,446.9 L362.6,445.4 L362.8,443.9 L362.9,442.4 L363.1,440.9 L363.2,439.4 L363.4,437.9 L363.5,436.4 L363.7,434.9 L363.8,433.5 L364.0,432.0 L364.1,430.5 L364.3,429.0 L364.4,427.5 L364.6,426.0 L364.7,424.5 L364.9,423.0 L365.0,421.5 L365.2,420.0 L365.4,418.5 L365.5,417.0 L365.7,415.5 L365.9,414.0 L366.0,412.6 L366.2,411.1 L366.4,409.6 L366.5,408.1 L366.7,406.6 L366.9,405.1 L367.1,403.6 L367.2,402.1 L367.4,400.6 L367.6,399.1 L367.8,397.6 L368.0,396.1 L368.1,394.7 L368.3,393.2 L368.5,391.7 L368.7,390.2 L368.9,388.7 L369.1,387.2 L369.3,385.7 L369.5,384.2 L369.7,382.7 L369.9,381.3 L370.1,379.8 L370.3,378.3 L370.5,376.8 L370.8,375.3 L371.0,373.8 L371.2,372.3 L371.4,370.8 L371.6,369.3 L371.8,367.9 L372.0,366.4 L372.3,364.9 L372.5,363.4 L372.7,361.9 L372.9,360.4 L373.1,358.9 L373.3,357.4 L373.5,356.0 L373.8,354.5 L374.0,353.0 L374.2,351.5 L374.4,350.0 L374.6,348.5 L374.8,347.0 L375.0,345.5 L375.2,344.1 L375.4,342.6 L375.7,341.1 L375.9,339.6 L376.1,338.1 L376.3,336.6 L376.5,335.1 L376.7,333.6 L376.9,332.2 L377.1,330.7 L377.3,329.2 L377.5,327.7 L377.8,326.2 L378.0,324.7 L378.2,323.3 L378.5,321.8 L378.7,320.3 L379.0,318.8 L379.3,317.4 L379.6,315.9 L379.9,314.4 L380.2,313.0 L380.5,311.5 L380.8,310.1 L381.2,308.6 L381.6,307.1 L382.0,305.7 L382.4,304.3 L382.8,302.8 L383.2,301.4 L383.7,299.9 L384.2,298.5 L384.7,297.1 L385.3,295.7 L385.9,294.2 L386.6,292.8 L387.4,291.4 L388.2,289.9 L389.2,288.5 L390.2,287.2 L391.3,286.1 L392.4,285.3 L393.3,285.1 L394.2,285.5 L395.0,286.4 L395.6,287.7 L396.2,289.3 L396.8,290.9 L397.4,292.6 L397.9,294.2 L398.4,295.8 L398.9,297.4 L399.3,298.8 L399.7,300.2 L400.1,301.7 L400.5,303.1 L400.8,304.5 L401.1,306.0 L401.4,307.4 L401.7,308.8 L402.0,310.3 L402.2,311.8 L402.4,313.2 L402.7,314.7 L402.9,316.2 L403.0,317.7 L403.2,319.2 L403.4,320.7 L403.5,322.1 L403.7,323.6 L403.8,325.1 L403.9,326.6 L404.0,328.1 L404.2,329.6 L404.3,331.2 L404.4,332.7 L404.5,334.2 L404.6,335.7 L404.7,337.2 L404.9,338.7 L405.0,340.2 L405.1,341.7 L405.3,343.2 L405.4,344.7 L405.5,346.2 L405.7,347.7 L405.9,349.2 L406.0,350.7 L406.2,352.2 L406.4,353.7 L406.5,355.2 L406.7,356.7 L406.9,358.2 L407.1,359.6 L407.3,361.1 L407.4,362.6 L407.6,364.1 L407.8,365.6 L408.0,367.1 L408.2,368.6 L408.4,370.1 L408.6,371.5 L408.8,373.0 L409.0,374.5 L409.2,376.0 L409.4,377.5 L409.6,379.0 L409.7,380.5 L409.9,382.0 L410.1,383.4 L410.3,384.9 L410.5,386.4 L410.6,387.9 L410.8,389.4 L411.0,390.9 L411.1,392.4 L411.3,393.9 L411.5,395.4 L411.6,396.9 L411.8,398.3 L411.9,399.8 L412.1,401.3 L412.2,402.8 L412.3,404.3 L412.5,405.8 L412.6,407.3 L412.7,408.8 L412.9,410.3 L413.0,411.8 L413.1,413.3 L413.2,414.8 L413.4,416.3 L413.5,417.8 L413.6,419.3 L413.7,420.8 L413.9,422.3 L414.0,423.8 L414.1,425.3 L414.2,426.8 L414.4,428.3 L414.5,429.8 L414.6,431.3 L414.7,432.8 L414.9,434.3 L415.0,435.7 L415.1,437.2 L415.3,438.7 L415.4,440.2 L415.5,441.7 L415.7,443.2 L415.8,444.7 L416.0,446.2 L416.1,447.7 L416.3,449.2 L416.4,450.7 L416.5,452.2 L416.7,453.7 L416.8,455.2 L417.0,456.7 L417.1,458.2 L417.3,459.7 L417.5,461.2 L417.6,462.7 L417.8,464.2 L417.9,465.7 L418.1,467.1 L418.2,468.6 L418.4,470.1 L418.6,471.6 L418.7,473.1 L418.9,474.6 L419.0,476.1 L419.2,477.6 L419.4,479.1 L419.5,480.6 L419.7,482.1 L419.9,483.6 L420.0,485.1 L420.2,486.6 L420.4,488.0 L420.5,489.5 L420.7,491.0 L420.9,492.5 L421.0,494.0 L421.2,495.5 L421.4,497.0 L421.5,498.5 L421.7,500.0 L421.8,501.5 L422.0,503.0 L422.2,504.5 L422.3,506.0 L422.5,507.5 L422.7,508.9 L422.8,510.4 L423.0,511.9 L423.2,513.4 L423.3,514.9 L423.5,516.4 L423.6,517.9 L423.8,519.4 L424.0,520.9 L424.1,522.4 L424.3,523.9 L424.4,525.4 L424.6,526.9 L424.7,528.3 L424.9,529.8 L425.1,531.3 L425.2,532.8 L425.4,534.3 L425.5,535.8 L425.7,537.3 L425.8,538.8 L426.0,540.3 L426.1,541.8 L426.3,543.3 L426.5,544.8 L426.6,546.3 L426.8,547.8 L426.9,549.2 L427.1,550.7 L427.3,552.2 L427.4,553.7 L427.6,555.2 L427.8,556.7 L427.9,558.2 L428.1,559.7 L428.3,561.2 L428.4,562.7 L428.6,564.2 L428.8,565.7 L429.0,567.1 L429.2,568.6 L429.3,570.1 L429.5,571.6 L429.7,573.1 L429.9,574.6 L430.1,576.1 L430.3,577.6 L430.5,579.1 L430.7,580.6 L430.9,582.1 L431.1,583.5 L431.3,585.0 L431.5,586.5 L431.7,588.0 L432.0,589.5 L432.2,591.0 L432.4,592.5 L432.6,594.0 L432.9,595.5 L433.1,596.9 L433.4,598.4 L433.6,599.9 L433.8,601.4 L434.1,602.9 L434.4,604.4 L434.6,605.9 L434.9,607.3 L435.2,608.8 L435.5,610.3 L435.9,611.7 L436.3,613.2 L436.8,614.6 L437.4,616.0 L438.0,617.4 L438.8,618.6 L439.7,619.8 L440.7,620.7 L441.9,621.4 L443.1,621.8 L444.5,622.0 L446.0,622.1 L447.6,622.0 L449.2,621.9 L450.8,621.7 L452.4,621.5 L454.0,621.3 L455.5,621.3 L457.0,621.2 L458.5,621.2 L460.0,621.2 L461.5,621.3 L463.0,621.3 L464.5,621.3 L466.0,621.3 L467.5,621.3 L469.0,621.3 L470.5,621.4 L472.0,621.4 L473.5,621.4 L474.9,621.4 L476.4,621.4 L477.9,621.4 L479.4,621.4 L480.9,621.4 L482.4,621.4 L483.9,621.4 L485.4,621.4 L486.9,621.4 L488.4,621.4 L489.9,621.4 L491.4,621.4 L492.9,621.4 L494.4,621.4 L495.9,621.4 L497.4,621.4 L499.0,621.4 L500.5,621.4 L502.0,621.4 L503.5,621.4 L505.0,621.4 L506.5,621.4 L508.0,621.4 L509.5,621.4 L511.0,621.4 L512.5,621.4 L514.0,621.4 L515.5,621.4 L517.0,621.4 L518.5,621.4 L520.0,621.4 L521.5,621.4 L523.0,621.4 L524.5,621.4 L526.0,621.4 L527.5,621.4 L529.0,621.4 L530.5,621.4 L532.0,621.4 L533.5,621.4 L535.0,621.4 L536.5,621.4 L538.0,621.4 L539.5,621.4 L541.0,621.4 L542.5,621.4 L544.0,621.4 L545.5,621.4 L547.0,621.4 L548.5,621.4 L550.0,621.4 L551.5,621.4 L553.0,621.4 L554.5,621.4 L556.1,621.4 L557.6,621.4 L559.1,621.4 L560.6,621.4 L562.1,621.4 L563.6,621.4 L565.1,621.4 L566.6,621.4 L568.1,621.4 L569.6,621.4 L571.1,621.4 L572.6,621.4 L574.1,621.4 L575.6,621.4 L577.1,621.4 L578.6,621.4 L580.1,621.4 L581.6,621.4 L583.1,621.4 L584.6,621.4 L586.1,621.4 L587.6,621.4 L589.1,621.4 L590.6,621.4 L592.1,621.4 L593.6,621.4 L595.1,621.4 L596.6,621.4 L598.1,621.4 L599.6,621.4 L601.1,621.4 L602.6,621.4 L604.1,621.4 L605.6,621.4 L607.1,621.4 L608.6,621.4 L610.1,621.4 L611.6,621.4 L613.1,621.4 L614.6,621.4 L616.1,621.4 L617.6,621.4 L619.1,621.4 L620.6,621.4 L622.1,621.4 L623.6,621.4 L625.1,621.4 L626.6,621.4 L628.1,621.4 L629.6,621.4 L631.2,621.4 L632.7,621.4 L634.2,621.4 L635.7,621.4 L637.2,621.4 L638.7,621.4 L640.2,621.4 L641.7,621.4 L643.2,621.4 L644.7,621.4 L646.2,621.4 L647.7,621.4 L649.2,621.4 L650.7,621.4 L652.2,621.4 L653.7,621.4 L655.2,621.4 L656.7,621.4 L658.2,621.4 L659.7,621.4 L661.2,621.4 L662.7,621.4 L664.2,621.4 L665.7,621.4 L667.2,621.4 L668.7,621.4 L670.2,621.4 L671.7,621.4 L673.2,621.4 L674.7,621.4 L676.2,621.4 L677.7,621.4 L679.2,621.4 L680.7,621.4 L682.2,621.4 L683.7,621.4 L685.2,621.4 L686.7,621.4 L688.2,621.4 L689.7,621.4 L691.2,621.4 L692.7,621.4 L694.2,621.4 L695.7,621.4 L697.2,621.4 L698.7,621.4 L700.2,621.4 L701.7,621.4 L703.2,621.4 L704.7,621.4 L706.2,621.4 L707.7,621.4 L709.2,621.4 L710.7,621.4 L712.2,621.4 L713.7,621.4 L715.2,621.4 L716.8,621.4 L718.3,621.4 L719.8,621.4 L721.3,621.4 L722.8,621.4 L724.3,621.4 L725.8,621.4 L727.3,621.4 L728.8,621.4 L730.3,621.4 L731.8,621.4 L733.3,621.4 L734.8,621.4 L736.3,621.4 L737.8,621.4 L739.3,621.4 L740.8,621.4 L742.3,621.4 L743.8,621.4 L745.3,621.4 L746.8,621.4 L748.3,621.4 L749.8,621.4 L751.3,621.4 L752.8,621.4 L754.3,621.4 L755.8,621.4 L757.3,621.4 L758.8,621.4 L760.3,621.4 L761.8,621.4 L763.3,621.4 L764.8,621.4 L766.3,621.4 L767.8,621.4 L769.3,621.4 L770.8,621.4 L772.3,621.4 L773.8,621.4 L775.3,621.4 L776.8,621.4 L778.3,621.4 L779.8,621.4 L781.3,621.4 L782.8,621.4 L784.3,621.4 L785.8,621.4 L787.3,621.4 L788.8,621.4 L790.4,621.4 L791.9,621.4 L793.4,621.4 L794.9,621.4 L796.4,621.4 L797.9,621.4 L799.4,621.4 L800.9,621.4 L802.4,621.4 L803.9,621.4 L805.4,621.4 L806.9,621.4 L808.4,621.4 L809.9,621.4 L811.4,621.4 L812.9,621.4 L814.4,621.4 L815.9,621.4 L817.4,621.4 L818.9,621.4 L820.4,621.4 L821.9,621.4 L823.4,621.4 L824.9,621.4 L826.4,621.4 L827.9,621.4 L829.4,621.4 L830.9,621.4 L832.4,621.4 L833.9,621.4 L835.4,621.4 L836.9,621.4 L838.4,621.4 L839.9,621.4 L841.4,621.4 L842.9,621.4 L844.4,621.4 L845.9,621.4 L847.4,621.4 L848.9,621.4 L850.4,621.4 L851.9,621.4 L853.4,621.4 L854.9,621.4 L856.4,621.4 L857.9,621.4 L859.4,621.4 L860.9,621.4 L862.4,621.4 L863.9,621.4 L865.5,621.4 L867.0,621.4 L868.5,621.4 L870.0,621.4 L871.5,621.4 L873.0,621.4 L874.5,621.4 L876.0,621.4 L877.5,621.4 L879.0,621.4 L880.5,621.4 L882.0,621.4 L883.5,621.4 L885.0,621.4 L886.5,621.4 L888.0,621.4 L889.5,621.4 L891.0,621.4 L892.5,621.4 L894.0,621.4 L895.5,621.4 L897.0,621.4 L898.5,621.4 L900.0,621.4 L901.5,621.4 L903.0,621.4 L904.5,621.4 L906.0,621.4" fill="none" stroke="#707080" stroke-width="1.8" stroke-dasharray="0.00 37.17 1.80 36.70 1.80 40.79 1.80 42.18 1.80 39.49 1.80 38.35 1.80 37.20 1.80 36.51 1.80 35.78 1.80 36.49 1.80 36.48 1.80 36.29 1.80 36.85 1.80 36.85 1.80 37.04 1.80 37.24 1.80 37.24 1.80 36.48 1.80 35.74 1.80 35.75 1.80 36.22 1.80 36.70 1.80 36.70 1.80 36.70 1.80 36.70 1.80 36.70 1.80 36.70 1.80 36.70 1.80 36.70 1.80 36.70 1.80 36.70 1.80 36.70 1.80 36.70 1.80 36.70 1.80 36.70 1.80 76.49" opacity="0.85"/>
<path d="M120.8,621.9 L122.3,622.0 L123.9,622.0 L125.4,622.1 L126.9,622.1 L128.4,622.1 L129.9,622.1 L131.4,622.1 L132.9,622.1 L134.4,622.0 L135.9,622.0 L137.4,621.9 L138.9,621.9 L140.3,621.9 L141.8,621.8 L143.3,621.8 L144.8,621.7 L146.3,621.7 L147.8,621.6 L149.2,621.6 L150.7,621.6 L152.2,621.6 L153.7,621.6 L155.2,621.6 L156.7,621.6 L158.3,621.6 L159.8,621.7 L161.3,621.8 L162.9,621.9 L164.4,622.0 L166.0,622.1 L167.6,622.2 L169.1,622.3 L170.6,622.3 L172.1,622.3 L173.6,622.2 L175.0,621.9 L176.4,621.6 L177.7,621.1 L179.0,620.4 L180.1,619.6 L181.3,618.7 L182.3,617.7 L183.3,616.6 L184.2,615.5 L185.1,614.3 L185.9,613.0 L186.7,611.7 L187.4,610.4 L188.1,609.1 L188.8,607.7 L189.5,606.4 L190.2,605.0 L190.9,603.6 L191.6,602.2 L192.3,600.9 L193.0,599.5 L193.7,598.2 L194.5,596.9 L195.3,595.6 L196.1,594.3 L197.0,593.1 L198.0,592.0 L199.0,590.9 L200.1,589.8 L201.2,588.8 L202.4,587.9 L203.7,587.1 L205.1,586.3 L206.4,585.7 L207.8,585.3 L209.2,585.0 L210.7,584.9 L212.1,585.0 L213.4,585.4 L214.8,586.0 L216.1,586.8 L217.3,587.8 L218.6,588.9 L219.8,590.0 L221.0,590.9 L222.2,591.9 L223.4,592.9 L224.5,593.9 L225.5,595.0 L226.4,596.1 L227.4,597.3 L228.2,598.5 L229.1,599.7 L230.0,601.0 L230.8,602.2 L231.7,603.5 L232.6,604.7 L233.5,605.9 L234.5,607.0 L235.5,608.1 L236.6,609.2 L237.7,610.2 L238.8,611.1 L240.0,612.0 L241.2,612.9 L242.4,613.6 L243.7,614.4 L245.0,615.0 L246.3,615.6 L247.7,616.1 L249.1,616.6 L250.5,617.0 L251.9,617.3 L253.4,617.6 L254.8,617.8 L256.3,618.0 L257.8,618.1 L259.3,618.1 L260.8,618.1 L262.4,618.1 L263.9,618.0 L265.4,617.9 L266.9,617.7 L268.5,617.5 L270.0,617.3 L271.5,617.0 L273.0,616.7 L274.5,616.4 L276.0,616.0 L277.5,615.7 L279.0,615.3 L280.5,614.9 L281.9,614.4 L283.4,614.0 L284.8,613.5 L286.2,613.0 L287.6,612.6 L289.0,612.1 L290.4,611.6 L291.8,611.1 L293.2,610.6 L294.6,610.1 L296.0,609.6 L297.4,609.1 L298.8,608.7 L300.2,608.2 L301.6,607.7 L303.0,607.3 L304.5,606.8 L305.9,606.4 L307.3,606.0 L308.7,605.6 L310.2,605.3 L311.6,604.9 L313.1,604.6 L314.6,604.3 L316.1,604.1 L317.6,603.9 L319.1,603.7 L320.6,603.5 L322.2,603.4 L323.7,603.3 L325.3,603.2 L326.8,603.2 L328.4,603.2 L329.9,603.2 L331.4,603.1 L332.8,602.9 L334.1,602.5 L335.2,601.7 L336.2,600.6 L337.1,599.5 L338.0,598.3 L338.9,597.1 L339.7,595.9 L340.5,594.7 L341.3,593.4 L342.1,592.1 L342.9,590.8 L343.6,589.5 L344.3,588.2 L345.0,586.9 L345.6,585.5 L346.3,584.1 L346.9,582.8 L347.5,581.4 L348.1,580.0 L348.7,578.6 L349.2,577.1 L349.7,575.7 L350.2,574.3 L350.7,572.8 L351.2,571.4 L351.7,570.0 L352.1,568.5 L352.5,567.1 L352.9,565.6 L353.3,564.2 L353.7,562.7 L354.0,561.3 L354.3,559.8 L354.7,558.3 L355.0,556.9 L355.3,555.4 L355.6,553.9 L355.9,552.5 L356.2,551.0 L356.5,549.5 L356.7,548.1 L357.0,546.6 L357.3,545.1 L357.5,543.6 L357.8,542.2 L358.0,540.7 L358.3,539.2 L358.5,537.7 L358.8,536.3 L359.0,534.8 L359.3,533.3 L359.5,531.8 L359.8,530.4 L360.1,528.9 L360.3,527.4 L360.6,525.9 L360.8,524.4 L361.1,523.0 L361.3,521.5 L361.6,520.0 L361.8,518.5 L362.1,517.0 L362.3,515.6 L362.6,514.1 L362.8,512.6 L363.1,511.1 L363.3,509.6 L363.6,508.1 L363.8,506.7 L364.0,505.2 L364.3,503.7 L364.5,502.2 L364.8,500.7 L365.0,499.2 L365.2,497.8 L365.5,496.3 L365.7,494.8 L365.9,493.3 L366.2,491.8 L366.4,490.3 L366.6,488.8 L366.9,487.3 L367.1,485.9 L367.3,484.4 L367.5,482.9 L367.7,481.4 L368.0,479.9 L368.2,478.4 L368.4,476.9 L368.6,475.4 L368.8,473.9 L369.0,472.5 L369.2,471.0 L369.4,469.5 L369.6,468.0 L369.8,466.5 L370.0,465.0 L370.2,463.5 L370.4,462.0 L370.6,460.5 L370.8,459.0 L371.0,457.6 L371.2,456.1 L371.4,454.6 L371.6,453.1 L371.8,451.6 L372.0,450.1 L372.2,448.6 L372.4,447.1 L372.6,445.7 L372.9,444.2 L373.1,442.7 L373.3,441.2 L373.5,439.7 L373.7,438.2 L374.0,436.8 L374.2,435.3 L374.5,433.8 L374.7,432.3 L375.0,430.8 L375.2,429.4 L375.5,427.9 L375.8,426.4 L376.1,425.0 L376.4,423.5 L376.7,422.0 L377.0,420.6 L377.3,419.1 L377.6,417.6 L377.9,416.2 L378.3,414.7 L378.6,413.2 L379.0,411.8 L379.3,410.3 L379.7,408.9 L380.1,407.4 L380.5,406.0 L380.9,404.5 L381.3,403.1 L381.7,401.6 L382.2,400.2 L382.6,398.7 L383.1,397.3 L383.5,395.8 L384.0,394.4 L384.6,393.0 L385.1,391.5 L385.8,390.1 L386.4,388.7 L387.2,387.4 L388.0,386.0 L388.9,384.7 L389.9,383.4 L391.0,382.3 L392.1,381.5 L393.2,381.2 L394.2,381.4 L395.2,382.1 L396.2,383.2 L397.2,384.6 L398.0,386.1 L398.9,387.6 L399.6,389.2 L400.2,390.8 L400.8,392.3 L401.3,393.8 L401.7,395.2 L402.1,396.6 L402.5,398.0 L402.8,399.5 L403.2,400.9 L403.5,402.3 L403.9,403.7 L404.2,405.2 L404.6,406.6 L404.9,408.1 L405.3,409.5 L405.6,411.0 L405.9,412.4 L406.2,413.9 L406.5,415.3 L406.8,416.8 L407.1,418.3 L407.4,419.8 L407.7,421.2 L408.0,422.7 L408.3,424.2 L408.6,425.7 L408.8,427.1 L409.1,428.6 L409.4,430.1 L409.6,431.6 L409.9,433.1 L410.1,434.6 L410.4,436.1 L410.6,437.5 L410.8,439.0 L411.1,440.5 L411.3,442.0 L411.5,443.5 L411.7,445.0 L412.0,446.5 L412.2,448.0 L412.4,449.4 L412.6,450.9 L412.8,452.4 L413.0,453.9 L413.2,455.4 L413.4,456.9 L413.6,458.4 L413.8,459.9 L414.0,461.4 L414.2,462.9 L414.4,464.4 L414.6,465.8 L414.8,467.3 L414.9,468.8 L415.1,470.3 L415.3,471.8 L415.5,473.3 L415.7,474.8 L415.9,476.3 L416.1,477.8 L416.2,479.3 L416.4,480.8 L416.6,482.2 L416.8,483.7 L417.0,485.2 L417.2,486.7 L417.4,488.2 L417.6,489.7 L417.8,491.2 L418.0,492.7 L418.2,494.2 L418.4,495.6 L418.6,497.1 L418.8,498.6 L419.0,500.1 L419.2,501.6 L419.4,503.1 L419.6,504.5 L419.8,506.0 L420.0,507.5 L420.3,509.0 L420.5,510.5 L420.7,512.0 L420.9,513.4 L421.2,514.9 L421.4,516.4 L421.6,517.9 L421.9,519.4 L422.1,520.8 L422.4,522.3 L422.6,523.8 L422.8,525.3 L423.1,526.8 L423.3,528.3 L423.5,529.7 L423.8,531.2 L424.0,532.7 L424.3,534.2 L424.5,535.7 L424.7,537.2 L425.0,538.6 L425.2,540.1 L425.4,541.6 L425.7,543.1 L425.9,544.6 L426.1,546.1 L426.4,547.6 L426.6,549.1 L426.8,550.6 L427.0,552.1 L427.3,553.6 L427.5,555.1 L427.7,556.6 L427.9,558.1 L428.1,559.6 L428.3,561.1 L428.5,562.6 L428.8,564.1 L429.0,565.5 L429.2,567.0 L429.4,568.5 L429.6,570.0 L429.8,571.5 L430.0,573.0 L430.2,574.5 L430.4,575.9 L430.6,577.4 L430.8,578.9 L431.0,580.4 L431.2,581.8 L431.4,583.3 L431.6,584.8 L431.8,586.2 L432.0,587.7 L432.2,589.1 L432.4,590.6 L432.6,592.0 L432.8,593.5 L433.0,594.9 L433.3,596.4 L433.5,597.9 L433.7,599.4 L434.0,600.9 L434.2,602.4 L434.5,604.0 L434.7,605.5 L435.0,607.1 L435.3,608.7 L435.6,610.3 L435.9,611.8 L436.3,613.4 L436.8,614.8 L437.3,616.2 L438.0,617.5 L438.7,618.6 L439.6,619.6 L440.6,620.4 L441.7,621.0 L443.0,621.4 L444.4,621.7 L445.9,621.8 L447.5,621.8 L449.1,621.8 L450.7,621.7 L452.3,621.6 L453.9,621.5 L455.4,621.4 L456.9,621.4 L458.4,621.4 L459.9,621.4 L461.3,621.4 L462.8,621.4 L464.3,621.4 L465.8,621.4 L467.3,621.4 L468.8,621.4 L470.3,621.4 L471.8,621.4 L473.3,621.4 L474.8,621.4 L476.3,621.4 L477.8,621.4 L479.3,621.4 L480.8,621.4 L482.3,621.4 L483.8,621.4 L485.3,621.4 L486.8,621.4 L488.3,621.4 L489.8,621.4 L491.3,621.4 L492.8,621.4 L494.3,621.4 L495.8,621.4 L497.3,621.4 L498.8,621.4 L500.3,621.4 L501.8,621.4 L503.3,621.4 L504.9,621.4 L506.4,621.4 L507.9,621.4 L509.4,621.4 L510.9,621.4 L512.4,621.4 L513.9,621.4 L515.4,621.4 L516.9,621.4 L518.4,621.4 L519.9,621.4 L521.4,621.4 L522.9,621.4 L524.4,621.4 L525.9,621.4 L527.4,621.4 L528.9,621.4 L530.4,621.4 L531.9,621.4 L533.4,621.4 L534.9,621.4 L536.4,621.4 L537.9,621.4 L539.4,621.4 L540.9,621.4 L542.4,621.4 L543.9,621.4 L545.4,621.4 L546.9,621.4 L548.4,621.4 L549.9,621.4 L551.4,621.4 L552.9,621.4 L554.4,621.4 L555.9,621.4 L557.4,621.4 L558.9,621.4 L560.4,621.4 L562.0,621.4 L563.5,621.4 L565.0,621.4 L566.5,621.4 L568.0,621.4 L569.5,621.4 L571.0,621.4 L572.5,621.4 L574.0,621.4 L575.5,621.4 L577.0,621.4 L578.5,621.4 L580.0,621.4 L581.5,621.4 L583.0,621.4 L584.5,621.4 L586.0,621.4 L587.5,621.4 L589.0,621.4 L590.5,621.4 L592.0,621.4 L593.5,621.4 L595.0,621.4 L596.5,621.4 L598.0,621.4 L599.5,621.4 L601.0,621.4 L602.5,621.4 L604.0,621.4 L605.5,621.4 L607.0,621.4 L608.5,621.4 L610.0,621.4 L611.5,621.4 L613.0,621.4 L614.5,621.4 L616.0,621.4 L617.5,621.4 L619.0,621.4 L620.5,621.4 L622.0,621.4 L623.5,621.4 L625.0,621.4 L626.5,621.4 L628.0,621.4 L629.6,621.4 L631.1,621.4 L632.6,621.4 L634.1,621.4 L635.6,621.4 L637.1,621.4 L638.6,621.4 L640.1,621.4 L641.6,621.4 L643.1,621.4 L644.6,621.4 L646.1,621.4 L647.6,621.4 L649.1,621.4 L650.6,621.4 L652.1,621.4 L653.6,621.4 L655.1,621.4 L656.6,621.4 L658.1,621.4 L659.6,621.4 L661.1,621.4 L662.6,621.4 L664.1,621.4 L665.6,621.4 L667.1,621.4 L668.6,621.4 L670.1,621.4 L671.6,621.4 L673.1,621.4 L674.6,621.4 L676.1,621.4 L677.6,621.4 L679.1,621.4 L680.6,621.4 L682.1,621.4 L683.6,621.4 L685.1,621.4 L686.6,621.4 L688.1,621.4 L689.6,621.4 L691.2,621.4 L692.7,621.4 L694.2,621.4 L695.7,621.4 L697.2,621.4 L698.7,621.4 L700.2,621.4 L701.7,621.4 L703.2,621.4 L704.7,621.4 L706.2,621.4 L707.7,621.4 L709.2,621.4 L710.7,621.4 L712.2,621.4 L713.7,621.4 L715.2,621.4 L716.7,621.4 L718.2,621.4 L719.7,621.4 L721.2,621.4 L722.7,621.4 L724.2,621.4 L725.7,621.4 L727.2,621.4 L728.7,621.4 L730.2,621.4 L731.7,621.4 L733.2,621.4 L734.7,621.4 L736.2,621.4 L737.7,621.4 L739.2,621.4 L740.7,621.4 L742.2,621.4 L743.7,621.4 L745.2,621.4 L746.7,621.4 L748.2,621.4 L749.7,621.4 L751.3,621.4 L752.8,621.4 L754.3,621.4 L755.8,621.4 L757.3,621.4 L758.8,621.4 L760.3,621.4 L761.8,621.4 L763.3,621.4 L764.8,621.4 L766.3,621.4 L767.8,621.4 L769.3,621.4 L770.8,621.4 L772.3,621.4 L773.8,621.4 L775.3,621.4 L776.8,621.4 L778.3,621.4 L779.8,621.4 L781.3,621.4 L782.8,621.4 L784.3,621.4 L785.8,621.4 L787.3,621.4 L788.8,621.4 L790.3,621.4 L791.8,621.4 L793.3,621.4 L794.8,621.4 L796.3,621.4 L797.8,621.4 L799.3,621.4 L800.8,621.4 L802.3,621.4 L803.8,621.4 L805.3,621.4 L806.8,621.4 L808.3,621.4 L809.8,621.4 L811.3,621.4 L812.9,621.4 L814.4,621.4 L815.9,621.4 L817.4,621.4 L818.9,621.4 L820.4,621.4 L821.9,621.4 L823.4,621.4 L824.9,621.4 L826.4,621.4 L827.9,621.4 L829.4,621.4 L830.9,621.4 L832.4,621.4 L833.9,621.4 L835.4,621.4 L836.9,621.4 L838.4,621.4 L839.9,621.4 L841.4,621.4 L842.9,621.4 L844.4,621.4 L845.9,621.4 L847.4,621.4 L848.9,621.4 L850.4,621.4 L851.9,621.4 L853.4,621.4 L854.9,621.4 L856.4,621.4 L857.9,621.4 L859.4,621.4 L860.9,621.4 L862.4,621.4 L863.9,621.4 L865.4,621.4 L866.9,621.4 L868.4,621.4 L869.9,621.4 L871.4,621.4 L872.9,621.4 L874.5,621.4 L876.0,621.4 L877.5,621.4 L879.0,621.4 L880.5,621.4 L882.0,621.4 L883.5,621.4 L885.0,621.4 L886.5,621.4 L888.0,621.4 L889.5,621.4 L891.0,621.4 L892.5,621.4 L894.0,621.4 L895.5,621.4 L897.0,621.4 L898.5,621.4 L900.0,621.4 L901.5,621.4 L903.0,621.4 L904.5,621.4 L906.0,621.4" fill="none" stroke="#007d00" stroke-width="4.5" stroke-linejoin="round"/>
<path d="M120.8,616.8 L122.3,616.8 L123.8,616.7 L125.3,616.7 L126.8,616.6 L128.3,616.6 L129.8,616.6 L131.3,616.6 L132.8,616.6 L134.3,616.6 L135.8,616.6 L137.3,616.6 L138.8,616.6 L140.3,616.6 L141.8,616.7 L143.3,616.7 L144.8,616.7 L146.3,616.8 L147.8,616.8 L149.4,616.8 L150.9,616.8 L152.4,616.9 L153.9,616.9 L155.4,616.9 L156.9,616.9 L158.4,617.0 L159.9,617.0 L161.4,617.0 L162.9,617.0 L164.4,617.0 L165.9,616.9 L167.4,616.9 L168.9,616.9 L170.4,616.8 L171.9,616.8 L173.4,616.7 L174.9,616.7 L176.3,616.6 L177.8,616.5 L179.3,616.4 L180.8,616.3 L182.3,616.1 L183.8,616.0 L185.3,615.8 L186.8,615.6 L188.3,615.4 L189.8,615.2 L191.3,615.0 L192.8,614.8 L194.3,614.6 L195.8,614.4 L197.3,614.2 L198.7,613.9 L200.2,613.7 L201.7,613.5 L203.2,613.3 L204.7,613.0 L206.2,612.8 L207.7,612.6 L209.2,612.4 L210.7,612.2 L212.2,612.0 L213.6,611.8 L215.1,611.7 L216.6,611.5 L218.1,611.4 L219.6,611.3 L221.1,611.2 L222.6,611.1 L224.1,611.0 L225.6,611.0 L227.0,611.0 L228.5,611.0 L230.0,611.0 L231.5,611.1 L233.0,611.2 L234.5,611.3 L236.0,611.5 L237.5,611.6 L239.0,611.8 L240.5,612.1 L242.0,612.3 L243.5,612.5 L245.0,612.8 L246.5,613.0 L248.0,613.3 L249.4,613.5 L250.9,613.7 L252.4,614.0 L253.9,614.2 L255.4,614.3 L256.9,614.5 L258.4,614.6 L259.9,614.7 L261.4,614.8 L262.9,614.8 L264.4,614.7 L265.9,614.7 L267.3,614.6 L268.8,614.5 L270.3,614.4 L271.8,614.2 L273.3,614.0 L274.8,613.8 L276.3,613.6 L277.7,613.4 L279.2,613.1 L280.7,612.8 L282.2,612.6 L283.7,612.3 L285.1,612.0 L286.6,611.7 L288.1,611.4 L289.6,611.1 L291.0,610.8 L292.5,610.5 L294.0,610.2 L295.4,609.8 L296.9,609.5 L298.4,609.2 L299.8,608.8 L301.3,608.5 L302.8,608.1 L304.2,607.8 L305.7,607.4 L307.2,607.1 L308.6,606.7 L310.1,606.4 L311.5,606.0 L313.0,605.7 L314.5,605.5 L315.9,605.3 L317.4,605.1 L318.9,605.1 L320.3,605.1 L321.8,605.2 L323.3,605.4 L324.8,605.6 L326.3,605.9 L327.8,606.2 L329.3,606.6 L330.8,606.9 L332.3,607.2 L333.8,607.5 L335.4,607.7 L336.9,607.8 L338.4,607.9 L339.8,607.8 L341.3,607.6 L342.8,607.3 L344.2,606.9 L345.6,606.3 L346.9,605.7 L348.2,605.1 L349.5,604.3 L350.7,603.5 L351.9,602.5 L353.0,601.6 L354.1,600.5 L355.1,599.5 L356.1,598.4 L357.1,597.2 L358.1,596.0 L359.0,594.8 L359.9,593.6 L360.9,592.4 L361.8,591.2 L362.7,590.0 L363.6,588.8 L364.5,587.6 L365.5,586.4 L366.4,585.3 L367.3,584.1 L368.3,583.0 L369.3,581.9 L370.3,580.7 L371.3,579.6 L372.3,578.6 L373.3,577.5 L374.4,576.4 L375.5,575.4 L376.6,574.3 L377.8,573.3 L378.9,572.3 L380.1,571.4 L381.4,570.5 L382.6,569.6 L383.9,568.8 L385.2,568.2 L386.5,567.5 L387.9,567.0 L389.3,566.6 L390.7,566.3 L392.1,566.1 L393.6,566.0 L395.1,566.1 L396.6,566.3 L398.1,566.6 L399.5,567.0 L401.0,567.5 L402.4,568.2 L403.7,568.9 L405.0,569.8 L406.2,570.7 L407.3,571.7 L408.4,572.8 L409.4,573.9 L410.3,575.0 L411.2,576.2 L412.1,577.4 L413.0,578.6 L413.8,579.9 L414.6,581.1 L415.5,582.3 L416.3,583.5 L417.1,584.8 L417.9,586.0 L418.7,587.2 L419.5,588.5 L420.2,589.8 L421.0,591.0 L421.8,592.3 L422.5,593.6 L423.3,594.9 L424.1,596.2 L424.8,597.5 L425.6,598.9 L426.4,600.2 L427.1,601.6 L427.9,602.9 L428.8,604.3 L429.6,605.6 L430.5,606.8 L431.4,608.0 L432.3,609.2 L433.3,610.3 L434.3,611.4 L435.4,612.3 L436.5,613.2 L437.7,613.9 L438.9,614.6 L440.3,615.1 L441.6,615.5 L443.1,615.8 L444.6,616.0 L446.1,616.2 L447.7,616.3 L449.2,616.3 L450.8,616.3 L452.3,616.3 L453.8,616.3 L455.3,616.3 L456.8,616.3 L458.3,616.2 L459.8,616.2 L461.3,616.1 L462.8,616.1 L464.3,616.1 L465.8,616.1 L467.3,616.1 L468.8,616.1 L470.3,616.1 L471.7,616.1 L473.2,616.2 L474.7,616.2 L476.2,616.2 L477.7,616.2 L479.2,616.3 L480.7,616.3 L482.2,616.3 L483.7,616.3 L485.2,616.3 L486.7,616.3 L488.2,616.3 L489.8,616.3 L491.3,616.2 L492.8,616.2 L494.3,616.1 L495.9,616.1 L497.4,616.0 L498.9,616.0 L500.4,616.0 L501.9,616.0 L503.4,616.1 L504.9,616.1 L506.4,616.3 L507.9,616.4 L509.3,616.6 L510.8,616.9 L512.2,617.2 L513.6,617.5 L515.0,617.9 L516.3,618.4 L517.7,618.9 L519.1,619.5 L520.5,620.1 L522.0,620.6 L523.5,621.2 L525.1,621.7 L526.8,622.1 L528.5,622.4 L530.0,622.5 L531.5,622.4 L532.8,621.9 L533.9,621.1 L534.8,620.0 L535.6,618.8 L536.3,617.5 L536.9,616.2 L537.5,614.8 L538.0,613.5 L538.5,612.1 L538.9,610.7 L539.3,609.3 L539.6,607.8 L539.9,606.4 L540.2,604.9 L540.5,603.4 L540.7,601.9 L540.9,600.4 L541.1,598.9 L541.3,597.4 L541.5,595.9 L541.7,594.4 L541.8,592.9 L542.0,591.4 L542.2,589.9 L542.4,588.4 L542.6,586.9 L542.7,585.4 L542.9,583.9 L543.1,582.4 L543.3,580.9 L543.5,579.4 L543.7,577.9 L543.8,576.4 L544.0,574.9 L544.2,573.4 L544.4,571.9 L544.6,570.4 L544.7,568.9 L544.9,567.4 L545.1,566.0 L545.3,564.5 L545.5,563.0 L545.6,561.5 L545.8,560.0 L546.0,558.5 L546.1,557.0 L546.3,555.5 L546.5,554.0 L546.6,552.5 L546.8,551.0 L546.9,549.6 L547.1,548.1 L547.2,546.6 L547.4,545.1 L547.5,543.6 L547.7,542.1 L547.8,540.6 L547.9,539.1 L548.0,537.6 L548.2,536.1 L548.3,534.6 L548.4,533.1 L548.5,531.6 L548.6,530.1 L548.7,528.6 L548.8,527.1 L548.9,525.7 L549.0,524.2 L549.0,522.7 L549.1,521.2 L549.2,519.7 L549.3,518.2 L549.3,516.7 L549.4,515.2 L549.5,513.7 L549.5,512.2 L549.6,510.7 L549.7,509.2 L549.7,507.7 L549.8,506.2 L549.8,504.7 L549.9,503.2 L549.9,501.7 L550.0,500.2 L550.0,498.7 L550.0,497.1 L550.1,495.6 L550.1,494.1 L550.2,492.6 L550.2,491.1 L550.2,489.6 L550.3,488.1 L550.3,486.6 L550.4,485.1 L550.4,483.6 L550.4,482.1 L550.5,480.6 L550.5,479.1 L550.6,477.6 L550.6,476.1 L550.7,474.6 L550.7,473.1 L550.7,471.6 L550.8,470.1 L550.8,468.6 L550.9,467.1 L550.9,465.6 L551.0,464.1 L551.0,462.6 L551.1,461.1 L551.1,459.6 L551.2,458.1 L551.2,456.6 L551.3,455.1 L551.3,453.6 L551.4,452.1 L551.4,450.6 L551.5,449.1 L551.5,447.6 L551.6,446.1 L551.6,444.6 L551.7,443.1 L551.8,441.6 L551.8,440.1 L551.9,438.6 L551.9,437.1 L552.0,435.6 L552.0,434.1 L552.1,432.6 L552.2,431.1 L552.2,429.6 L552.3,428.1 L552.3,426.6 L552.4,425.1 L552.5,423.6 L552.5,422.1 L552.6,420.6 L552.6,419.1 L552.7,417.6 L552.8,416.0 L552.8,414.5 L552.9,413.0 L553.0,411.5 L553.0,410.0 L553.1,408.5 L553.2,407.0 L553.2,405.5 L553.3,404.0 L553.4,402.5 L553.4,401.0 L553.5,399.5 L553.6,398.0 L553.6,396.5 L553.7,395.0 L553.8,393.5 L553.9,392.0 L553.9,390.5 L554.0,389.0 L554.1,387.5 L554.1,386.0 L554.2,384.5 L554.3,383.0 L554.4,381.5 L554.4,380.0 L554.5,378.5 L554.6,377.0 L554.7,375.5 L554.7,374.0 L554.8,372.5 L554.9,371.0 L555.0,369.5 L555.0,368.0 L555.1,366.5 L555.2,365.0 L555.3,363.5 L555.4,362.0 L555.4,360.5 L555.5,359.0 L555.6,357.5 L555.7,356.0 L555.7,354.5 L555.8,353.0 L555.9,351.5 L556.0,350.0 L556.1,348.5 L556.2,347.0 L556.2,345.5 L556.3,344.0 L556.4,342.5 L556.5,341.0 L556.6,339.5 L556.6,338.0 L556.7,336.5 L556.8,335.0 L556.9,333.5 L557.0,332.0 L557.1,330.5 L557.1,329.1 L557.2,327.6 L557.3,326.1 L557.4,324.6 L557.5,323.1 L557.6,321.6 L557.7,320.1 L557.7,318.6 L557.8,317.1 L557.9,315.6 L558.0,314.1 L558.1,312.6 L558.2,311.1 L558.3,309.6 L558.3,308.1 L558.4,306.6 L558.5,305.1 L558.6,303.6 L558.7,302.1 L558.8,300.6 L558.9,299.1 L559.0,297.6 L559.1,296.1 L559.1,294.6 L559.2,293.1 L559.3,291.6 L559.4,290.1 L559.5,288.6 L559.6,287.1 L559.7,285.6 L559.8,284.1 L559.9,282.6 L559.9,281.1 L560.0,279.6 L560.1,278.1 L560.2,276.6 L560.3,275.1 L560.4,273.6 L560.5,272.1 L560.6,270.6 L560.7,269.1 L560.8,267.6 L560.8,266.1 L560.9,264.6 L561.0,263.1 L561.1,261.6 L561.2,260.1 L561.3,258.6 L561.4,257.1 L561.5,255.6 L561.6,254.1 L561.7,252.6 L561.8,251.1 L561.8,249.6 L561.9,248.1 L562.0,246.6 L562.1,245.1 L562.2,243.6 L562.3,242.1 L562.4,240.6 L562.5,239.1 L562.6,237.6 L562.7,236.1 L562.8,234.6 L562.9,233.1 L562.9,231.6 L563.0,230.1 L563.1,228.6 L563.2,227.1 L563.3,225.6 L563.4,224.1 L563.5,222.6 L563.6,221.1 L563.7,219.6 L563.8,218.1 L563.9,216.6 L563.9,215.1 L564.0,213.6 L564.1,212.1 L564.2,210.6 L564.3,209.1 L564.4,207.6 L564.5,206.1 L564.6,204.6 L564.7,203.1 L564.8,201.6 L564.8,200.1 L564.9,198.6 L565.0,197.1 L565.1,195.6 L565.2,194.1 L565.3,192.6 L565.4,191.1 L565.4,189.6 L565.5,188.1 L565.6,186.6 L565.7,185.1 L565.8,183.6 L565.9,182.1 L566.0,180.6 L566.0,179.1 L566.1,177.6 L566.2,176.1 L566.3,174.6 L566.4,173.1 L566.5,171.6 L566.5,170.1 L566.6,168.6 L566.7,167.1 L566.8,165.6 L566.9,164.1 L567.0,162.6 L567.0,161.1 L567.1,159.6 L567.2,158.1 L567.3,156.6 L567.4,155.1 L567.5,153.6 L567.6,152.1 L567.7,150.6 L567.8,149.1 L568.0,147.6 L568.1,146.1 L568.2,144.6 L568.3,143.1 L568.5,141.6 L568.6,140.1 L568.7,138.6 L568.9,137.2 L569.0,135.7 L569.2,134.2 L569.4,132.7 L569.5,131.2 L569.7,129.7 L569.9,128.2 L570.1,126.7 L570.3,125.2 L570.5,123.8 L570.7,122.3 L570.9,120.8 L571.2,119.3 L571.4,117.8 L571.6,116.3 L571.9,114.8 L572.3,113.3 L572.6,111.7 L573.0,110.0 L573.5,108.3 L574.0,106.7 L574.5,105.5 L575.1,105.1 L575.6,105.6 L576.1,106.8 L576.6,108.4 L577.1,110.2 L577.6,112.0 L578.0,113.7 L578.3,115.3 L578.6,116.9 L578.8,118.3 L579.0,119.7 L579.1,121.2 L579.3,122.6 L579.6,124.0 L579.8,125.5 L580.0,127.0 L580.2,128.5 L580.4,130.0 L580.6,131.4 L580.9,132.9 L581.1,134.4 L581.2,135.9 L581.4,137.4 L581.6,138.9 L581.8,140.4 L582.0,141.9 L582.1,143.4 L582.3,144.9 L582.4,146.4 L582.6,147.9 L582.7,149.4 L582.8,150.9 L583.0,152.4 L583.1,153.8 L583.2,155.3 L583.3,156.8 L583.5,158.3 L583.6,159.8 L583.7,161.3 L583.8,162.8 L583.9,164.3 L584.0,165.8 L584.1,167.3 L584.1,168.8 L584.2,170.3 L584.3,171.8 L584.4,173.3 L584.5,174.8 L584.6,176.3 L584.6,177.8 L584.7,179.3 L584.8,180.8 L584.9,182.3 L584.9,183.8 L585.0,185.3 L585.1,186.8 L585.2,188.3 L585.3,189.8 L585.3,191.3 L585.4,192.8 L585.5,194.3 L585.6,195.8 L585.6,197.3 L585.7,198.8 L585.8,200.3 L585.9,201.8 L586.0,203.3 L586.0,204.8 L586.1,206.3 L586.2,207.8 L586.3,209.3 L586.4,210.8 L586.4,212.3 L586.5,213.8 L586.6,215.3 L586.7,216.8 L586.8,218.3 L586.9,219.8 L586.9,221.3 L587.0,222.8 L587.1,224.3 L587.2,225.8 L587.3,227.3 L587.4,228.8 L587.4,230.3 L587.5,231.8 L587.6,233.3 L587.7,234.8 L587.8,236.3 L587.9,237.8 L588.0,239.3 L588.0,240.8 L588.1,242.3 L588.2,243.8 L588.3,245.3 L588.4,246.8 L588.5,248.3 L588.6,249.8 L588.6,251.3 L588.7,252.8 L588.8,254.3 L588.9,255.8 L589.0,257.3 L589.1,258.8 L589.2,260.3 L589.2,261.8 L589.3,263.3 L589.4,264.8 L589.5,266.3 L589.6,267.8 L589.7,269.3 L589.7,270.8 L589.8,272.3 L589.9,273.8 L590.0,275.3 L590.1,276.8 L590.2,278.3 L590.2,279.8 L590.3,281.3 L590.4,282.8 L590.5,284.3 L590.6,285.8 L590.6,287.3 L590.7,288.8 L590.8,290.3 L590.9,291.8 L590.9,293.3 L591.0,294.8 L591.1,296.3 L591.2,297.8 L591.3,299.3 L591.3,300.8 L591.4,302.3 L591.5,303.8 L591.5,305.3 L591.6,306.8 L591.7,308.3 L591.8,309.8 L591.8,311.3 L591.9,312.8 L592.0,314.3 L592.0,315.8 L592.1,317.3 L592.2,318.8 L592.2,320.3 L592.3,321.8 L592.4,323.3 L592.4,324.8 L592.5,326.3 L592.5,327.8 L592.6,329.3 L592.7,330.8 L592.7,332.3 L592.8,333.8 L592.8,335.3 L592.9,336.8 L593.0,338.3 L593.0,339.8 L593.1,341.3 L593.1,342.8 L593.2,344.3 L593.2,345.8 L593.3,347.3 L593.3,348.8 L593.4,350.3 L593.5,351.8 L593.5,353.3 L593.6,354.8 L593.6,356.3 L593.7,357.9 L593.7,359.4 L593.8,360.9 L593.8,362.4 L593.9,363.9 L593.9,365.4 L594.0,366.9 L594.0,368.4 L594.1,369.9 L594.1,371.4 L594.2,372.9 L594.2,374.4 L594.3,375.9 L594.3,377.4 L594.4,378.9 L594.4,380.4 L594.5,381.9 L594.5,383.4 L594.6,384.9 L594.6,386.4 L594.7,387.9 L594.7,389.4 L594.8,390.9 L594.8,392.4 L594.9,393.9 L594.9,395.4 L595.0,396.9 L595.0,398.4 L595.1,399.9 L595.1,401.4 L595.2,402.9 L595.2,404.4 L595.3,405.9 L595.3,407.4 L595.4,408.9 L595.4,410.4 L595.5,411.9 L595.5,413.4 L595.6,414.9 L595.6,416.4 L595.7,417.9 L595.7,419.4 L595.8,420.9 L595.8,422.4 L595.9,423.9 L596.0,425.4 L596.0,426.9 L596.1,428.4 L596.1,429.9 L596.2,431.4 L596.2,432.9 L596.3,434.4 L596.4,435.9 L596.4,437.4 L596.5,438.9 L596.5,440.4 L596.6,441.9 L596.7,443.4 L596.7,444.9 L596.8,446.4 L596.8,447.9 L596.9,449.4 L597.0,450.9 L597.0,452.4 L597.1,453.9 L597.2,455.4 L597.2,456.9 L597.3,458.4 L597.4,459.9 L597.5,461.4 L597.5,462.9 L597.6,464.4 L597.7,465.9 L597.7,467.4 L597.8,468.9 L597.9,470.4 L598.0,471.9 L598.1,473.4 L598.1,474.9 L598.2,476.4 L598.3,477.9 L598.4,479.4 L598.5,480.9 L598.5,482.4 L598.6,483.9 L598.7,485.4 L598.8,486.9 L598.9,488.4 L599.0,489.9 L599.1,491.4 L599.2,492.9 L599.3,494.4 L599.4,495.9 L599.5,497.4 L599.6,498.9 L599.7,500.4 L599.8,501.9 L599.9,503.4 L600.0,504.9 L600.1,506.4 L600.2,507.9 L600.3,509.4 L600.4,510.9 L600.5,512.4 L600.6,513.9 L600.8,515.4 L600.9,516.9 L601.0,518.4 L601.1,519.9 L601.2,521.4 L601.4,522.9 L601.5,524.4 L601.6,525.9 L601.7,527.4 L601.9,528.9 L602.0,530.4 L602.1,531.9 L602.3,533.4 L602.4,534.9 L602.6,536.4 L602.7,537.8 L602.8,539.3 L603.0,540.8 L603.1,542.3 L603.3,543.8 L603.4,545.3 L603.6,546.8 L603.8,548.3 L603.9,549.8 L604.1,551.3 L604.2,552.8 L604.4,554.3 L604.6,555.8 L604.7,557.3 L604.9,558.8 L605.1,560.3 L605.3,561.8 L605.5,563.3 L605.7,564.7 L605.9,566.2 L606.1,567.7 L606.3,569.2 L606.5,570.7 L606.7,572.2 L606.9,573.7 L607.2,575.1 L607.4,576.6 L607.6,578.1 L607.9,579.5 L608.2,581.0 L608.4,582.5 L608.7,583.9 L609.0,585.4 L609.3,586.9 L609.5,588.3 L609.8,589.8 L610.1,591.3 L610.4,592.8 L610.6,594.2 L610.9,595.7 L611.2,597.2 L611.4,598.7 L611.7,600.2 L611.9,601.7 L612.1,603.2 L612.3,604.7 L612.5,606.3 L612.7,607.8 L612.9,609.3 L613.1,610.9 L613.3,612.4 L613.6,613.9 L613.9,615.3 L614.4,616.7 L615.0,618.0 L615.8,619.2 L616.8,620.4 L618.0,621.3 L619.3,622.0 L620.7,622.4 L622.0,622.4 L623.4,622.0 L624.7,621.2 L626.1,620.4 L627.4,619.6 L628.8,618.9 L630.1,618.2 L631.5,617.7 L632.9,617.2 L634.4,616.8 L635.8,616.4 L637.2,616.1 L638.7,615.9 L640.2,615.7 L641.6,615.5 L643.1,615.4 L644.6,615.4 L646.1,615.3 L647.6,615.3 L649.1,615.3 L650.6,615.3 L652.1,615.3 L653.6,615.3 L655.1,615.3 L656.6,615.3 L658.1,615.3 L659.6,615.3 L661.1,615.3 L662.6,615.3 L664.1,615.3 L665.6,615.4 L667.2,615.4 L668.7,615.4 L670.2,615.4 L671.7,615.4 L673.2,615.4 L674.7,615.4 L676.2,615.4 L677.7,615.4 L679.2,615.4 L680.7,615.4 L682.2,615.5 L683.7,615.5 L685.2,615.5 L686.7,615.5 L688.2,615.5 L689.7,615.5 L691.2,615.5 L692.7,615.5 L694.2,615.5 L695.7,615.5 L697.2,615.5 L698.7,615.5 L700.2,615.6 L701.7,615.6 L703.2,615.6 L704.7,615.6 L706.2,615.6 L707.7,615.6 L709.2,615.6 L710.7,615.6 L712.2,615.6 L713.7,615.6 L715.2,615.6 L716.7,615.7 L718.2,615.7 L719.7,615.7 L721.3,615.7 L722.8,615.7 L724.3,615.7 L725.8,615.7 L727.3,615.7 L728.8,615.7 L730.3,615.7 L731.8,615.7 L733.3,615.7 L734.8,615.8 L736.3,615.8 L737.8,615.8 L739.3,615.8 L740.8,615.8 L742.3,615.8 L743.8,615.8 L745.3,615.8 L746.8,615.8 L748.3,615.8 L749.8,615.8 L751.3,615.9 L752.8,615.9 L754.3,615.9 L755.8,615.9 L757.3,615.9 L758.8,615.9 L760.3,615.9 L761.8,615.9 L763.3,615.9 L764.8,615.9 L766.3,615.9 L767.8,616.0 L769.3,616.0 L770.8,616.0 L772.3,616.0 L773.8,616.0 L775.3,616.0 L776.8,616.0 L778.3,616.0 L779.8,616.0 L781.3,616.0 L782.8,616.0 L784.3,616.1 L785.8,616.1 L787.3,616.1 L788.8,616.1 L790.3,616.1 L791.8,616.1 L793.3,616.1 L794.8,616.1 L796.3,616.1 L797.8,616.1 L799.3,616.1 L800.8,616.2 L802.4,616.2 L803.9,616.2 L805.4,616.2 L806.9,616.2 L808.4,616.2 L809.9,616.2 L811.4,616.2 L812.9,616.2 L814.4,616.2 L815.9,616.2 L817.4,616.3 L818.9,616.3 L820.4,616.3 L821.9,616.3 L823.4,616.3 L824.9,616.3 L826.4,616.3 L827.9,616.3 L829.4,616.3 L830.9,616.3 L832.4,616.4 L833.9,616.4 L835.4,616.4 L836.9,616.4 L838.4,616.4 L839.9,616.4 L841.4,616.4 L842.9,616.4 L844.4,616.4 L845.9,616.4 L847.4,616.4 L848.9,616.5 L850.4,616.5 L851.9,616.5 L853.4,616.5 L854.9,616.5 L856.4,616.5 L857.9,616.5 L859.4,616.5 L860.9,616.5 L862.4,616.5 L863.9,616.5 L865.4,616.6 L866.9,616.6 L868.5,616.6 L870.0,616.6 L871.5,616.6 L873.0,616.6 L874.5,616.6 L876.0,616.6 L877.5,616.6 L879.0,616.6 L880.5,616.6 L882.0,616.7 L883.5,616.7 L885.0,616.7 L886.5,616.7 L888.0,616.7 L889.5,616.7 L891.0,616.7 L892.5,616.7 L894.0,616.7 L895.5,616.7 L897.0,616.7 L898.5,616.8 L900.0,616.8 L901.5,616.8 L903.0,616.8 L904.5,616.8 L906.0,616.8" fill="none" stroke="#f00000" stroke-width="4.5" stroke-linejoin="round"/>

<g stroke="#000" fill="none">
<path d="M906,71.5 V624.9" stroke-width="4.2"/>
<path d="M120.3,73.3 H908.1" stroke-width="4.4"/>
</g>
<g stroke="#000" stroke-width="3">
<path d="M115,621.6 H121"/><path d="M115,530.3 H121"/><path d="M115,438.9 H121"/><path d="M115,347.6 H121"/><path d="M115,256.3 H121"/><path d="M115,165.0 H121"/><path d="M115,73.6 H121"/>
<path d="M907,616.5 H913.5"/><path d="M907,508.0 H913.5"/><path d="M907,399.5 H913.5"/><path d="M907,290.9 H913.5"/><path d="M907,182.4 H913.5"/><path d="M907,73.9 H913.5"/>
<path d="M122.6,622 V631"/><path d="M300.8,622 V631"/><path d="M479.0,622 V631"/><path d="M657.1,622 V631"/><path d="M835.3,622 V631"/>
</g>
<g stroke="#000" stroke-width="2.6">
<path d="M226.8,52.1 V89.6"/><path d="M323,54 V90.5"/><path d="M404.5,47.5 V83.5"/><path d="M471.7,58.3 V94.9"/><path d="M592.2,55 V91.3"/>
</g>
<g font-size="26" text-anchor="end"><text transform="translate(101.6,630.2) scale(1,1.05)">0</text><text transform="translate(101.6,538.9) scale(1,1.05)">100</text><text transform="translate(101.6,447.5) scale(1,1.05)">200</text><text transform="translate(101.6,356.2) scale(1,1.05)">300</text><text transform="translate(101.6,264.9) scale(1,1.05)">400</text><text transform="translate(101.6,173.6) scale(1,1.05)">500</text><text transform="translate(101.6,82.2) scale(1,1.05)">600</text></g>
<g font-size="26" text-anchor="start"><text transform="translate(927,625.5) scale(1,1.05)">0</text><text transform="translate(927,517.0) scale(1,1.05)">500</text><text transform="translate(927,408.5) scale(1,1.05)">1000</text><text transform="translate(927,299.9) scale(1,1.05)">1500</text><text transform="translate(927,191.4) scale(1,1.05)">2000</text><text transform="translate(927,82.9) scale(1,1.05)">2500</text></g>
<g font-size="26" text-anchor="middle"><text transform="translate(122.6,668) scale(1,1.05)">500</text><text transform="translate(300.8,668) scale(1,1.05)">1000</text><text transform="translate(479.0,668) scale(1,1.05)">1500</text><text transform="translate(657.1,668) scale(1,1.05)">2000</text><text transform="translate(835.3,668) scale(1,1.05)">2500</text></g>
<g font-size="23.5">
<text x="182.6" y="37">670 kDa</text>
<text x="282.7" y="50">158 kDa</text>
<text x="366.1" y="30">44 kDa</text>
<text x="454.1" y="54.6">17 kDa</text>
<text x="573.6" y="45.5">1.35 kDa</text>
</g>
<text font-size="30.5" x="511.3" y="723" text-anchor="middle">retention time (s)</text>
<text font-size="30.5" transform="translate(32,354.4) rotate(-90)" text-anchor="middle">Au/Ti intensity (c/s)</text>
<text font-size="30.3" transform="translate(1033.5,348.3) rotate(-90)" text-anchor="middle">S intensity (c/s)</text>
<g font-size="26" text-anchor="middle"><text transform="translate(210.5,554.4) scale(1,1.05)">1</text><text transform="translate(288.8,580.2) scale(1,1.05)">2</text><text transform="translate(394.1,449.0) scale(1,1.05)">3</text><text transform="translate(491.2,570.0) scale(1,1.05)">4</text><text transform="translate(574.3,559.5) scale(1,1.05)">5</text><text transform="translate(670.4,542.7) scale(1,1.05)">6</text><text transform="translate(773.4,318.2) scale(1,1.05)">7</text></g>
<g stroke-width="4.5" fill="none"><path d="M602.4,107.6 H715.6" stroke="#0000f0"/><path d="M602.4,132.8 H715.6" stroke="#0000f0" stroke-dasharray="19.2 18.6"/><path d="M602.4,158.0 H715.6" stroke="#007d00"/><path d="M602.4,183.2 H715.6" stroke="#007d00" stroke-dasharray="19.2 18.6"/><path d="M602.4,208.4 H715.6" stroke="#f00000"/></g>
<g fill="#707080"><rect x="630.0" y="131.9" width="1.8" height="1.8"/><rect x="667.7" y="131.9" width="1.8" height="1.8"/><rect x="705.4" y="131.9" width="1.8" height="1.8"/><rect x="630.0" y="182.3" width="1.8" height="1.8"/><rect x="667.7" y="182.3" width="1.8" height="1.8"/><rect x="705.4" y="182.3" width="1.8" height="1.8"/></g>
<g font-size="21.4"><text x="744.5" y="115.6">Ti @ 5 min</text><text x="744.5" y="140.8">Ti @ 60 min</text><text x="744.5" y="166.0">Au @ 5 min</text><text x="744.5" y="191.2">Au @ 60 min</text><text x="744.5" y="216.4">S @ 5 + 60 min</text></g>
<g fill="#fff"><rect x="204.05" y="550.58" width="5.08" height="5.32"/><rect x="213.19" y="550.58" width="4.64" height="5.32"/><rect x="59.01" y="535.05" width="5.08" height="5.32"/><rect x="68.15" y="535.05" width="4.64" height="5.32"/><rect x="272.64" y="664.18" width="5.08" height="5.32"/><rect x="281.78" y="664.18" width="4.64" height="5.32"/><rect x="927.78" y="404.63" width="5.08" height="5.32"/><rect x="936.92" y="404.63" width="4.64" height="5.32"/><rect x="450.82" y="664.18" width="5.08" height="5.32"/><rect x="459.96" y="664.18" width="4.64" height="5.32"/><rect x="927.78" y="296.10" width="5.08" height="5.32"/><rect x="936.92" y="296.10" width="4.64" height="5.32"/><rect x="283.40" y="46.71" width="4.57" height="4.79"/><rect x="291.69" y="46.71" width="4.17" height="4.79"/><rect x="454.81" y="51.31" width="4.57" height="4.79"/><rect x="463.10" y="51.31" width="4.17" height="4.79"/><rect x="574.31" y="42.21" width="4.57" height="4.79"/><rect x="582.60" y="42.21" width="4.17" height="4.79"/></g>
</svg>
</body></html>
